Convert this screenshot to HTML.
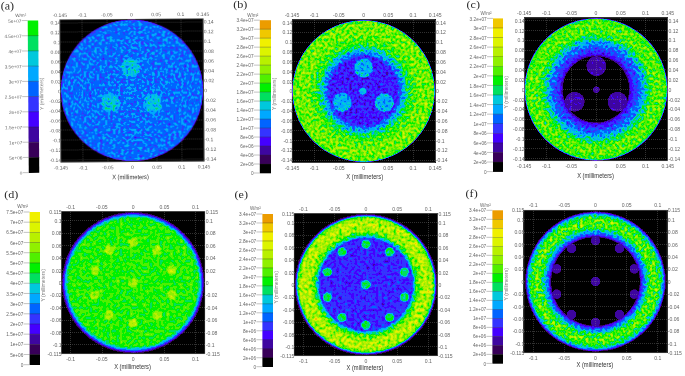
<!DOCTYPE html>
<html><head><meta charset="utf-8"><style>
html,body{margin:0;padding:0;background:#fff;}
svg{display:block;font-family:"Liberation Sans",sans-serif;will-change:transform;}
</style></head><body>
<svg width="685" height="376" viewBox="0 0 685 376">
<defs><filter id="fa" filterUnits="userSpaceOnUse" x="60.4" y="19.25" width="143.1" height="142.3" color-interpolation-filters="sRGB">
<feTurbulence type="fractalNoise" baseFrequency="0.38" numOctaves="1" seed="3" result="t"/>
<feColorMatrix in="t" type="matrix" values="0 0 0 0 0  1 0 0 0 0  0 0 0 0 0  0 0 0 0 1" result="ng"/>
<feComposite in="SourceGraphic" in2="ng" operator="arithmetic" k1="0.5" k2="0.5" k3="0" k4="0" result="c"/>
<feColorMatrix in="c" type="matrix" values="2 2.0000 -3.0000 0 0  2 2.0000 -3.0000 0 0  2 2.0000 -3.0000 0 0  0 0 0 0 1" result="v"/>
<feComponentTransfer in="v" result="q"><feFuncR type="discrete" tableValues="0.0000 0.2196 0.2431 0.2667 0.2039 0.0000 0.0000 0.0000 0.0000 0.0000 0.3137 0.5647 0.7216 0.8627 0.9412 0.9412 0.9255"/><feFuncG type="discrete" tableValues="0.0000 0.0000 0.0235 0.0000 0.2039 0.3922 0.6588 0.7843 0.8784 0.9412 0.9412 0.9412 0.9412 0.9569 0.9412 0.7843 0.6118"/><feFuncB type="discrete" tableValues="0.0000 0.3451 0.6275 1.0000 1.0000 1.0000 1.0000 0.8627 0.3765 0.0000 0.0000 0.0000 0.0000 0.0000 0.0000 0.0000 0.0000"/><feFuncA type="identity"/></feComponentTransfer>
<feGaussianBlur in="q" stdDeviation="0.7"/>
</filter>
<radialGradient id="g1"><stop offset="0.0000" stop-color="rgb(84,86,86)"/><stop offset="0.9720" stop-color="rgb(84,86,86)"/><stop offset="0.9860" stop-color="rgb(69,58,58)"/><stop offset="0.9944" stop-color="rgb(38,14,14)"/><stop offset="1.0000" stop-color="rgb(8,0,0)"/></radialGradient>
<radialGradient id="g2"><stop offset="0" stop-color="rgb(108,94,94)"/><stop offset="0.8" stop-color="rgb(105,94,94)"/><stop offset="1" stop-color="rgb(105,94,94)" stop-opacity="0"/></radialGradient>
<radialGradient id="g3"><stop offset="0" stop-color="rgb(108,94,94)"/><stop offset="0.8" stop-color="rgb(105,94,94)"/><stop offset="1" stop-color="rgb(105,94,94)" stop-opacity="0"/></radialGradient>
<radialGradient id="g4"><stop offset="0" stop-color="rgb(108,94,94)"/><stop offset="0.8" stop-color="rgb(105,94,94)"/><stop offset="1" stop-color="rgb(105,94,94)" stop-opacity="0"/></radialGradient>
<radialGradient id="g5"><stop offset="0" stop-color="rgb(94,72,72)"/><stop offset="0.5" stop-color="rgb(94,72,72)"/><stop offset="1" stop-color="rgb(94,72,72)" stop-opacity="0"/></radialGradient>
<mask id="ma" maskUnits="userSpaceOnUse" x="20.4" y="-20.75" width="223.1" height="222.3"><rect x="20.4" y="-20.75" width="223.1" height="222.3" fill="white"/><ellipse cx="131.95" cy="90.4" rx="70.05" ry="69.65" fill="#404040"/></mask>
<filter id="fb" filterUnits="userSpaceOnUse" x="292" y="19.9" width="143.2" height="142.4" color-interpolation-filters="sRGB">
<feTurbulence type="fractalNoise" baseFrequency="0.36" numOctaves="1" seed="5" result="t"/>
<feColorMatrix in="t" type="matrix" values="0 0 0 0 0  1 0 0 0 0  0 0 0 0 0  0 0 0 0 1" result="ng"/>
<feComposite in="SourceGraphic" in2="ng" operator="arithmetic" k1="0.5" k2="0.5" k3="0" k4="0" result="c"/>
<feColorMatrix in="c" type="matrix" values="2 2.0000 -3.0000 0 0  2 2.0000 -3.0000 0 0  2 2.0000 -3.0000 0 0  0 0 0 0 1" result="v"/>
<feComponentTransfer in="v" result="q"><feFuncR type="discrete" tableValues="0.0000 0.2196 0.2431 0.2667 0.2039 0.0000 0.0000 0.0000 0.0000 0.0000 0.3137 0.5647 0.7216 0.8627 0.9412 0.9412 0.9255"/><feFuncG type="discrete" tableValues="0.0000 0.0000 0.0235 0.0000 0.2039 0.3922 0.6588 0.7843 0.8784 0.9412 0.9412 0.9412 0.9412 0.9569 0.9412 0.7843 0.6118"/><feFuncB type="discrete" tableValues="0.0000 0.3451 0.6275 1.0000 1.0000 1.0000 1.0000 0.8627 0.3765 0.0000 0.0000 0.0000 0.0000 0.0000 0.0000 0.0000 0.0000"/><feFuncA type="identity"/></feComponentTransfer>
<feGaussianBlur in="q" stdDeviation="0.7"/>
</filter>
<radialGradient id="g6"><stop offset="0.0000" stop-color="rgb(60,79,79)"/><stop offset="0.4755" stop-color="rgb(60,79,79)"/><stop offset="0.5035" stop-color="rgb(75,101,101)"/><stop offset="0.5315" stop-color="rgb(93,115,115)"/><stop offset="0.5734" stop-color="rgb(108,130,130)"/><stop offset="0.6154" stop-color="rgb(128,144,144)"/><stop offset="0.6573" stop-color="rgb(144,144,144)"/><stop offset="0.7273" stop-color="rgb(156,144,144)"/><stop offset="0.8112" stop-color="rgb(165,144,144)"/><stop offset="0.9231" stop-color="rgb(165,144,144)"/><stop offset="0.9818" stop-color="rgb(156,130,130)"/><stop offset="0.9930" stop-color="rgb(75,43,43)"/><stop offset="1.0000" stop-color="rgb(8,0,0)"/></radialGradient>
<radialGradient id="g7"><stop offset="0" stop-color="rgb(93,94,94)"/><stop offset="0.82" stop-color="rgb(106,94,94)"/><stop offset="1" stop-color="rgb(106,94,94)" stop-opacity="0"/></radialGradient>
<radialGradient id="g8"><stop offset="0" stop-color="rgb(93,94,94)"/><stop offset="0.82" stop-color="rgb(106,94,94)"/><stop offset="1" stop-color="rgb(106,94,94)" stop-opacity="0"/></radialGradient>
<radialGradient id="g9"><stop offset="0" stop-color="rgb(93,94,94)"/><stop offset="0.82" stop-color="rgb(106,94,94)"/><stop offset="1" stop-color="rgb(106,94,94)" stop-opacity="0"/></radialGradient>
<radialGradient id="g10"><stop offset="0" stop-color="rgb(105,58,58)"/><stop offset="0.7" stop-color="rgb(105,58,58)"/><stop offset="1" stop-color="rgb(105,58,58)" stop-opacity="0"/></radialGradient>
<mask id="mb" maskUnits="userSpaceOnUse" x="252" y="-20.1" width="223.2" height="222.4"><rect x="252" y="-20.1" width="223.2" height="222.4" fill="white"/><ellipse cx="363.6" cy="91.10000000000001" rx="70.10" ry="69.70" fill="#404040"/></mask>
<filter id="fc" filterUnits="userSpaceOnUse" x="524.2" y="17.9" width="143.5999999999999" height="143.0" color-interpolation-filters="sRGB">
<feTurbulence type="fractalNoise" baseFrequency="0.36" numOctaves="1" seed="7" result="t"/>
<feColorMatrix in="t" type="matrix" values="0 0 0 0 0  1 0 0 0 0  0 0 0 0 0  0 0 0 0 1" result="ng"/>
<feComposite in="SourceGraphic" in2="ng" operator="arithmetic" k1="0.5" k2="0.5" k3="0" k4="0" result="c"/>
<feColorMatrix in="c" type="matrix" values="2 2.0000 -3.0000 0 0  2 2.0000 -3.0000 0 0  2 2.0000 -3.0000 0 0  0 0 0 0 1" result="v"/>
<feComponentTransfer in="v" result="q"><feFuncR type="discrete" tableValues="0.0000 0.2196 0.2431 0.2667 0.2039 0.0000 0.0000 0.0000 0.0000 0.0000 0.3137 0.5647 0.7216 0.8627 0.9412 0.9412 0.9255"/><feFuncG type="discrete" tableValues="0.0000 0.0000 0.0235 0.0000 0.2039 0.3922 0.6588 0.7843 0.8784 0.9412 0.9412 0.9412 0.9412 0.9569 0.9412 0.7843 0.6118"/><feFuncB type="discrete" tableValues="0.0000 0.3451 0.6275 1.0000 1.0000 1.0000 1.0000 0.8627 0.3765 0.0000 0.0000 0.0000 0.0000 0.0000 0.0000 0.0000 0.0000"/><feFuncA type="identity"/></feComponentTransfer>
<feGaussianBlur in="q" stdDeviation="0.7"/>
</filter>
<radialGradient id="g11"><stop offset="0.0000" stop-color="rgb(8,0,0)"/><stop offset="0.4587" stop-color="rgb(8,0,0)"/><stop offset="0.4699" stop-color="rgb(39,14,14)"/><stop offset="0.4895" stop-color="rgb(51,43,43)"/><stop offset="0.5175" stop-color="rgb(61,72,72)"/><stop offset="0.5594" stop-color="rgb(72,86,86)"/><stop offset="0.6154" stop-color="rgb(84,101,101)"/><stop offset="0.6573" stop-color="rgb(99,130,130)"/><stop offset="0.6993" stop-color="rgb(117,144,144)"/><stop offset="0.7413" stop-color="rgb(138,144,144)"/><stop offset="0.7972" stop-color="rgb(155,144,144)"/><stop offset="0.9231" stop-color="rgb(156,144,144)"/><stop offset="0.9790" stop-color="rgb(147,115,115)"/><stop offset="0.9930" stop-color="rgb(60,29,29)"/><stop offset="1.0000" stop-color="rgb(8,0,0)"/></radialGradient>
<radialGradient id="g12"><stop offset="0" stop-color="rgb(42,14,14)"/><stop offset="0.9" stop-color="rgb(42,14,14)"/><stop offset="1" stop-color="rgb(42,14,14)" stop-opacity="0"/></radialGradient>
<radialGradient id="g13"><stop offset="0" stop-color="rgb(42,14,14)"/><stop offset="0.9" stop-color="rgb(42,14,14)"/><stop offset="1" stop-color="rgb(42,14,14)" stop-opacity="0"/></radialGradient>
<radialGradient id="g14"><stop offset="0" stop-color="rgb(42,14,14)"/><stop offset="0.9" stop-color="rgb(42,14,14)"/><stop offset="1" stop-color="rgb(42,14,14)" stop-opacity="0"/></radialGradient>
<radialGradient id="g15"><stop offset="0" stop-color="rgb(42,14,14)"/><stop offset="0.8" stop-color="rgb(42,14,14)"/><stop offset="1" stop-color="rgb(42,14,14)" stop-opacity="0"/></radialGradient>
<mask id="mc" maskUnits="userSpaceOnUse" x="484.20000000000005" y="-22.1" width="223.5999999999999" height="223.0"><rect x="484.20000000000005" y="-22.1" width="223.5999999999999" height="223.0" fill="white"/><ellipse cx="596.0" cy="89.4" rx="70.30" ry="70.00" fill="#404040"/><ellipse cx="596.0" cy="89.4" rx="33.14" ry="33.00" fill="white"/></mask>
<filter id="fd" filterUnits="userSpaceOnUse" x="61.2" y="211.3" width="143.8" height="142.59999999999997" color-interpolation-filters="sRGB">
<feTurbulence type="fractalNoise" baseFrequency="0.3" numOctaves="1" seed="11" result="t"/>
<feColorMatrix in="t" type="matrix" values="0 0 0 0 0  1 0 0 0 0  0 0 0 0 0  0 0 0 0 1" result="ng"/>
<feComposite in="SourceGraphic" in2="ng" operator="arithmetic" k1="0.5" k2="0.5" k3="0" k4="0" result="c"/>
<feColorMatrix in="c" type="matrix" values="2 2.0000 -3.0000 0 0  2 2.0000 -3.0000 0 0  2 2.0000 -3.0000 0 0  0 0 0 0 1" result="v"/>
<feComponentTransfer in="v" result="q"><feFuncR type="discrete" tableValues="0.0000 0.2196 0.2431 0.2667 0.2039 0.0000 0.0000 0.0000 0.0000 0.0000 0.3137 0.5647 0.7216 0.8627 0.9412 0.9412 0.9255"/><feFuncG type="discrete" tableValues="0.0000 0.0000 0.0235 0.0000 0.2039 0.3922 0.6588 0.7843 0.8784 0.9412 0.9412 0.9412 0.9412 0.9569 0.9412 0.7843 0.6118"/><feFuncB type="discrete" tableValues="0.0000 0.3451 0.6275 1.0000 1.0000 1.0000 1.0000 0.8627 0.3765 0.0000 0.0000 0.0000 0.0000 0.0000 0.0000 0.0000 0.0000"/><feFuncA type="identity"/></feComponentTransfer>
<feGaussianBlur in="q" stdDeviation="0.7"/>
</filter>
<radialGradient id="g16"><stop offset="0.0000" stop-color="rgb(147,79,79)"/><stop offset="0.8951" stop-color="rgb(147,79,79)"/><stop offset="0.9161" stop-color="rgb(128,72,72)"/><stop offset="0.9371" stop-color="rgb(105,58,58)"/><stop offset="0.9510" stop-color="rgb(82,43,43)"/><stop offset="0.9650" stop-color="rgb(57,29,29)"/><stop offset="0.9790" stop-color="rgb(34,14,14)"/><stop offset="0.9902" stop-color="rgb(15,0,0)"/><stop offset="1.0000" stop-color="rgb(8,0,0)"/></radialGradient>
<radialGradient id="g17"><stop offset="0" stop-color="rgb(180,72,72)"/><stop offset="0.55" stop-color="rgb(180,72,72)"/><stop offset="1" stop-color="rgb(180,72,72)" stop-opacity="0"/></radialGradient>
<radialGradient id="g18"><stop offset="0" stop-color="rgb(180,72,72)"/><stop offset="0.55" stop-color="rgb(180,72,72)"/><stop offset="1" stop-color="rgb(180,72,72)" stop-opacity="0"/></radialGradient>
<radialGradient id="g19"><stop offset="0" stop-color="rgb(180,72,72)"/><stop offset="0.55" stop-color="rgb(180,72,72)"/><stop offset="1" stop-color="rgb(180,72,72)" stop-opacity="0"/></radialGradient>
<radialGradient id="g20"><stop offset="0" stop-color="rgb(180,72,72)"/><stop offset="0.55" stop-color="rgb(180,72,72)"/><stop offset="1" stop-color="rgb(180,72,72)" stop-opacity="0"/></radialGradient>
<radialGradient id="g21"><stop offset="0" stop-color="rgb(180,72,72)"/><stop offset="0.55" stop-color="rgb(180,72,72)"/><stop offset="1" stop-color="rgb(180,72,72)" stop-opacity="0"/></radialGradient>
<radialGradient id="g22"><stop offset="0" stop-color="rgb(180,72,72)"/><stop offset="0.55" stop-color="rgb(180,72,72)"/><stop offset="1" stop-color="rgb(180,72,72)" stop-opacity="0"/></radialGradient>
<radialGradient id="g23"><stop offset="0" stop-color="rgb(180,72,72)"/><stop offset="0.55" stop-color="rgb(180,72,72)"/><stop offset="1" stop-color="rgb(180,72,72)" stop-opacity="0"/></radialGradient>
<radialGradient id="g24"><stop offset="0" stop-color="rgb(180,72,72)"/><stop offset="0.55" stop-color="rgb(180,72,72)"/><stop offset="1" stop-color="rgb(180,72,72)" stop-opacity="0"/></radialGradient>
<radialGradient id="g25"><stop offset="0" stop-color="rgb(180,72,72)"/><stop offset="0.55" stop-color="rgb(180,72,72)"/><stop offset="1" stop-color="rgb(180,72,72)" stop-opacity="0"/></radialGradient>
<radialGradient id="g26"><stop offset="0" stop-color="rgb(180,72,72)"/><stop offset="0.55" stop-color="rgb(180,72,72)"/><stop offset="1" stop-color="rgb(180,72,72)" stop-opacity="0"/></radialGradient>
<radialGradient id="g27"><stop offset="0" stop-color="rgb(180,72,72)"/><stop offset="0.55" stop-color="rgb(180,72,72)"/><stop offset="1" stop-color="rgb(180,72,72)" stop-opacity="0"/></radialGradient>
<mask id="md" maskUnits="userSpaceOnUse" x="21.200000000000003" y="171.3" width="223.8" height="222.59999999999997"><rect x="21.200000000000003" y="171.3" width="223.8" height="222.59999999999997" fill="white"/><ellipse cx="133.1" cy="282.6" rx="70.40" ry="69.80" fill="#404040"/></mask>
<filter id="fe" filterUnits="userSpaceOnUse" x="294" y="213.3" width="143.8" height="142.59999999999997" color-interpolation-filters="sRGB">
<feTurbulence type="fractalNoise" baseFrequency="0.33" numOctaves="1" seed="13" result="t"/>
<feColorMatrix in="t" type="matrix" values="0 0 0 0 0  1 0 0 0 0  0 0 0 0 0  0 0 0 0 1" result="ng"/>
<feComposite in="SourceGraphic" in2="ng" operator="arithmetic" k1="0.5" k2="0.5" k3="0" k4="0" result="c"/>
<feColorMatrix in="c" type="matrix" values="2 2.0000 -3.0000 0 0  2 2.0000 -3.0000 0 0  2 2.0000 -3.0000 0 0  0 0 0 0 1" result="v"/>
<feComponentTransfer in="v" result="q"><feFuncR type="discrete" tableValues="0.0000 0.2196 0.2431 0.2667 0.2039 0.0000 0.0000 0.0000 0.0000 0.0000 0.3137 0.5647 0.7216 0.8627 0.9412 0.9412 0.9255"/><feFuncG type="discrete" tableValues="0.0000 0.0000 0.0235 0.0000 0.2039 0.3922 0.6588 0.7843 0.8784 0.9412 0.9412 0.9412 0.9412 0.9569 0.9412 0.7843 0.6118"/><feFuncB type="discrete" tableValues="0.0000 0.3451 0.6275 1.0000 1.0000 1.0000 1.0000 0.8627 0.3765 0.0000 0.0000 0.0000 0.0000 0.0000 0.0000 0.0000 0.0000"/><feFuncA type="identity"/></feComponentTransfer>
<feGaussianBlur in="q" stdDeviation="0.7"/>
</filter>
<radialGradient id="g28"><stop offset="0.0000" stop-color="rgb(61,72,72)"/><stop offset="0.6434" stop-color="rgb(61,72,72)"/><stop offset="0.6545" stop-color="rgb(78,79,79)"/><stop offset="0.6657" stop-color="rgb(99,86,86)"/><stop offset="0.6797" stop-color="rgb(114,101,101)"/><stop offset="0.6965" stop-color="rgb(132,130,130)"/><stop offset="0.7133" stop-color="rgb(148,144,144)"/><stop offset="0.7413" stop-color="rgb(165,158,158)"/><stop offset="0.7832" stop-color="rgb(177,158,158)"/><stop offset="0.7972" stop-color="rgb(183,158,158)"/><stop offset="0.8951" stop-color="rgb(183,158,158)"/><stop offset="0.9231" stop-color="rgb(172,144,144)"/><stop offset="0.9441" stop-color="rgb(150,115,115)"/><stop offset="0.9580" stop-color="rgb(105,72,72)"/><stop offset="0.9720" stop-color="rgb(60,29,29)"/><stop offset="0.9832" stop-color="rgb(22,0,0)"/><stop offset="1.0000" stop-color="rgb(8,0,0)"/></radialGradient>
<radialGradient id="g29"><stop offset="0" stop-color="rgb(132,72,72)"/><stop offset="0.65" stop-color="rgb(132,72,72)"/><stop offset="1" stop-color="rgb(132,72,72)" stop-opacity="0"/></radialGradient>
<radialGradient id="g30"><stop offset="0" stop-color="rgb(132,72,72)"/><stop offset="0.65" stop-color="rgb(132,72,72)"/><stop offset="1" stop-color="rgb(132,72,72)" stop-opacity="0"/></radialGradient>
<radialGradient id="g31"><stop offset="0" stop-color="rgb(132,72,72)"/><stop offset="0.65" stop-color="rgb(132,72,72)"/><stop offset="1" stop-color="rgb(132,72,72)" stop-opacity="0"/></radialGradient>
<radialGradient id="g32"><stop offset="0" stop-color="rgb(132,72,72)"/><stop offset="0.65" stop-color="rgb(132,72,72)"/><stop offset="1" stop-color="rgb(132,72,72)" stop-opacity="0"/></radialGradient>
<radialGradient id="g33"><stop offset="0" stop-color="rgb(132,72,72)"/><stop offset="0.65" stop-color="rgb(132,72,72)"/><stop offset="1" stop-color="rgb(132,72,72)" stop-opacity="0"/></radialGradient>
<radialGradient id="g34"><stop offset="0" stop-color="rgb(132,72,72)"/><stop offset="0.65" stop-color="rgb(132,72,72)"/><stop offset="1" stop-color="rgb(132,72,72)" stop-opacity="0"/></radialGradient>
<radialGradient id="g35"><stop offset="0" stop-color="rgb(132,72,72)"/><stop offset="0.65" stop-color="rgb(132,72,72)"/><stop offset="1" stop-color="rgb(132,72,72)" stop-opacity="0"/></radialGradient>
<radialGradient id="g36"><stop offset="0" stop-color="rgb(132,72,72)"/><stop offset="0.65" stop-color="rgb(132,72,72)"/><stop offset="1" stop-color="rgb(132,72,72)" stop-opacity="0"/></radialGradient>
<radialGradient id="g37"><stop offset="0" stop-color="rgb(132,72,72)"/><stop offset="0.65" stop-color="rgb(132,72,72)"/><stop offset="1" stop-color="rgb(132,72,72)" stop-opacity="0"/></radialGradient>
<radialGradient id="g38"><stop offset="0" stop-color="rgb(132,72,72)"/><stop offset="0.65" stop-color="rgb(132,72,72)"/><stop offset="1" stop-color="rgb(132,72,72)" stop-opacity="0"/></radialGradient>
<radialGradient id="g39"><stop offset="0" stop-color="rgb(132,72,72)"/><stop offset="0.65" stop-color="rgb(132,72,72)"/><stop offset="1" stop-color="rgb(132,72,72)" stop-opacity="0"/></radialGradient>
<mask id="me" maskUnits="userSpaceOnUse" x="254" y="173.3" width="223.8" height="222.59999999999997"><rect x="254" y="173.3" width="223.8" height="222.59999999999997" fill="white"/><ellipse cx="365.9" cy="284.6" rx="70.40" ry="69.80" fill="#404040"/></mask>
<filter id="ff" filterUnits="userSpaceOnUse" x="523.9" y="210.1" width="143.20000000000005" height="142.79999999999998" color-interpolation-filters="sRGB">
<feTurbulence type="fractalNoise" baseFrequency="0.36" numOctaves="1" seed="17" result="t"/>
<feColorMatrix in="t" type="matrix" values="0 0 0 0 0  1 0 0 0 0  0 0 0 0 0  0 0 0 0 1" result="ng"/>
<feComposite in="SourceGraphic" in2="ng" operator="arithmetic" k1="0.5" k2="0.5" k3="0" k4="0" result="c"/>
<feColorMatrix in="c" type="matrix" values="2 2.0000 -3.0000 0 0  2 2.0000 -3.0000 0 0  2 2.0000 -3.0000 0 0  0 0 0 0 1" result="v"/>
<feComponentTransfer in="v" result="q"><feFuncR type="discrete" tableValues="0.0000 0.2196 0.2431 0.2667 0.2039 0.0000 0.0000 0.0000 0.0000 0.0000 0.3137 0.5647 0.7216 0.8627 0.9412 0.9412 0.9255"/><feFuncG type="discrete" tableValues="0.0000 0.0000 0.0235 0.0000 0.2039 0.3922 0.6588 0.7843 0.8784 0.9412 0.9412 0.9412 0.9412 0.9569 0.9412 0.7843 0.6118"/><feFuncB type="discrete" tableValues="0.0000 0.3451 0.6275 1.0000 1.0000 1.0000 1.0000 0.8627 0.3765 0.0000 0.0000 0.0000 0.0000 0.0000 0.0000 0.0000 0.0000"/><feFuncA type="identity"/></feComponentTransfer>
<feGaussianBlur in="q" stdDeviation="0.7"/>
</filter>
<radialGradient id="g40"><stop offset="0.0000" stop-color="rgb(8,0,0)"/><stop offset="0.6154" stop-color="rgb(8,0,0)"/><stop offset="0.6266" stop-color="rgb(39,14,14)"/><stop offset="0.6406" stop-color="rgb(54,43,43)"/><stop offset="0.6573" stop-color="rgb(72,72,72)"/><stop offset="0.6783" stop-color="rgb(87,101,101)"/><stop offset="0.6993" stop-color="rgb(102,115,115)"/><stop offset="0.7203" stop-color="rgb(118,130,130)"/><stop offset="0.7413" stop-color="rgb(135,144,144)"/><stop offset="0.7692" stop-color="rgb(148,158,158)"/><stop offset="0.8112" stop-color="rgb(156,173,173)"/><stop offset="0.8601" stop-color="rgb(153,173,173)"/><stop offset="0.8881" stop-color="rgb(144,144,144)"/><stop offset="0.9119" stop-color="rgb(132,130,130)"/><stop offset="0.9315" stop-color="rgb(114,115,115)"/><stop offset="0.9483" stop-color="rgb(90,86,86)"/><stop offset="0.9622" stop-color="rgb(64,58,58)"/><stop offset="0.9720" stop-color="rgb(39,29,29)"/><stop offset="0.9804" stop-color="rgb(15,0,0)"/><stop offset="1.0000" stop-color="rgb(8,0,0)"/></radialGradient>
<radialGradient id="g41"><stop offset="0" stop-color="rgb(42,0,0)"/><stop offset="0.85" stop-color="rgb(42,0,0)"/><stop offset="1" stop-color="rgb(42,0,0)" stop-opacity="0"/></radialGradient>
<radialGradient id="g42"><stop offset="0" stop-color="rgb(42,0,0)"/><stop offset="0.85" stop-color="rgb(42,0,0)"/><stop offset="1" stop-color="rgb(42,0,0)" stop-opacity="0"/></radialGradient>
<radialGradient id="g43"><stop offset="0" stop-color="rgb(42,0,0)"/><stop offset="0.85" stop-color="rgb(42,0,0)"/><stop offset="1" stop-color="rgb(42,0,0)" stop-opacity="0"/></radialGradient>
<radialGradient id="g44"><stop offset="0" stop-color="rgb(42,0,0)"/><stop offset="0.85" stop-color="rgb(42,0,0)"/><stop offset="1" stop-color="rgb(42,0,0)" stop-opacity="0"/></radialGradient>
<radialGradient id="g45"><stop offset="0" stop-color="rgb(42,0,0)"/><stop offset="0.85" stop-color="rgb(42,0,0)"/><stop offset="1" stop-color="rgb(42,0,0)" stop-opacity="0"/></radialGradient>
<radialGradient id="g46"><stop offset="0" stop-color="rgb(42,0,0)"/><stop offset="0.85" stop-color="rgb(42,0,0)"/><stop offset="1" stop-color="rgb(42,0,0)" stop-opacity="0"/></radialGradient>
<radialGradient id="g47"><stop offset="0" stop-color="rgb(42,0,0)"/><stop offset="0.85" stop-color="rgb(42,0,0)"/><stop offset="1" stop-color="rgb(42,0,0)" stop-opacity="0"/></radialGradient>
<radialGradient id="g48"><stop offset="0" stop-color="rgb(42,0,0)"/><stop offset="0.85" stop-color="rgb(42,0,0)"/><stop offset="1" stop-color="rgb(42,0,0)" stop-opacity="0"/></radialGradient>
<radialGradient id="g49"><stop offset="0" stop-color="rgb(42,0,0)"/><stop offset="0.85" stop-color="rgb(42,0,0)"/><stop offset="1" stop-color="rgb(42,0,0)" stop-opacity="0"/></radialGradient>
<radialGradient id="g50"><stop offset="0" stop-color="rgb(42,0,0)"/><stop offset="0.85" stop-color="rgb(42,0,0)"/><stop offset="1" stop-color="rgb(42,0,0)" stop-opacity="0"/></radialGradient>
<radialGradient id="g51"><stop offset="0" stop-color="rgb(42,0,0)"/><stop offset="0.85" stop-color="rgb(42,0,0)"/><stop offset="1" stop-color="rgb(42,0,0)" stop-opacity="0"/></radialGradient>
<mask id="mf" maskUnits="userSpaceOnUse" x="483.9" y="170.1" width="223.20000000000005" height="222.79999999999998"><rect x="483.9" y="170.1" width="223.20000000000005" height="222.79999999999998" fill="white"/><ellipse cx="595.5" cy="281.5" rx="70.10" ry="69.90" fill="#404040"/><ellipse cx="595.5" cy="281.5" rx="44.36" ry="44.24" fill="white"/></mask></defs>
<rect width="685" height="376" fill="#fff"/>
<g transform="rotate(-0.4,131.95,90.4)">
<text transform="translate(1.2,8.7) scale(1.08,1)" font-family="Liberation Serif" font-size="11.2" fill="#2a2a2a">(a)</text>
<text x="26.7" y="16.1" font-size="4.6" fill="#666" text-anchor="end">W/m²</text>
<rect x="28.2" y="19.80" width="10.500000000000004" height="15.51" fill="#00f000"/>
<rect x="28.2" y="35.01" width="10.500000000000004" height="15.51" fill="#00e060"/>
<rect x="28.2" y="50.22" width="10.500000000000004" height="15.51" fill="#00c8dc"/>
<rect x="28.2" y="65.43" width="10.500000000000004" height="15.51" fill="#00a8ff"/>
<rect x="28.2" y="80.64" width="10.500000000000004" height="15.51" fill="#0064ff"/>
<rect x="28.2" y="95.85" width="10.500000000000004" height="15.51" fill="#3434ff"/>
<rect x="28.2" y="111.06" width="10.500000000000004" height="15.51" fill="#4400ff"/>
<rect x="28.2" y="126.27" width="10.500000000000004" height="15.51" fill="#3e06a0"/>
<rect x="28.2" y="141.48" width="10.500000000000004" height="15.51" fill="#380058"/>
<rect x="28.2" y="156.69" width="10.500000000000004" height="15.51" fill="#000000"/>
<line x1="28.2" x2="38.7" y1="35.01" y2="35.01" stroke="#222" stroke-width="0.45" opacity="0.7"/>
<line x1="28.2" x2="38.7" y1="50.22" y2="50.22" stroke="#222" stroke-width="0.45" opacity="0.7"/>
<line x1="28.2" x2="38.7" y1="65.43" y2="65.43" stroke="#222" stroke-width="0.45" opacity="0.7"/>
<line x1="28.2" x2="38.7" y1="80.64" y2="80.64" stroke="#222" stroke-width="0.45" opacity="0.7"/>
<line x1="28.2" x2="38.7" y1="95.85" y2="95.85" stroke="#222" stroke-width="0.45" opacity="0.7"/>
<line x1="28.2" x2="38.7" y1="111.06" y2="111.06" stroke="#222" stroke-width="0.45" opacity="0.7"/>
<line x1="28.2" x2="38.7" y1="126.27" y2="126.27" stroke="#222" stroke-width="0.45" opacity="0.7"/>
<line x1="28.2" x2="38.7" y1="141.48" y2="141.48" stroke="#222" stroke-width="0.45" opacity="0.7"/>
<line x1="28.2" x2="38.7" y1="156.69" y2="156.69" stroke="#222" stroke-width="0.45" opacity="0.7"/>
<line x1="22.2" x2="28.2" y1="19.80" y2="19.80" stroke="#999" stroke-width="0.6"/>
<text x="21.9" y="21.90" font-size="4.7" fill="#666" text-anchor="end">5e+07</text>
<line x1="22.2" x2="28.2" y1="35.01" y2="35.01" stroke="#999" stroke-width="0.6"/>
<text x="21.9" y="37.11" font-size="4.7" fill="#666" text-anchor="end">4.5e+07</text>
<line x1="22.2" x2="28.2" y1="50.22" y2="50.22" stroke="#999" stroke-width="0.6"/>
<text x="21.9" y="52.32" font-size="4.7" fill="#666" text-anchor="end">4e+07</text>
<line x1="22.2" x2="28.2" y1="65.43" y2="65.43" stroke="#999" stroke-width="0.6"/>
<text x="21.9" y="67.53" font-size="4.7" fill="#666" text-anchor="end">3.5e+07</text>
<line x1="22.2" x2="28.2" y1="80.64" y2="80.64" stroke="#999" stroke-width="0.6"/>
<text x="21.9" y="82.74" font-size="4.7" fill="#666" text-anchor="end">3e+07</text>
<line x1="22.2" x2="28.2" y1="95.85" y2="95.85" stroke="#999" stroke-width="0.6"/>
<text x="21.9" y="97.95" font-size="4.7" fill="#666" text-anchor="end">2.5e+07</text>
<line x1="22.2" x2="28.2" y1="111.06" y2="111.06" stroke="#999" stroke-width="0.6"/>
<text x="21.9" y="113.16" font-size="4.7" fill="#666" text-anchor="end">2e+07</text>
<line x1="22.2" x2="28.2" y1="126.27" y2="126.27" stroke="#999" stroke-width="0.6"/>
<text x="21.9" y="128.37" font-size="4.7" fill="#666" text-anchor="end">1.5e+07</text>
<line x1="22.2" x2="28.2" y1="141.48" y2="141.48" stroke="#999" stroke-width="0.6"/>
<text x="21.9" y="143.58" font-size="4.7" fill="#666" text-anchor="end">1e+07</text>
<line x1="22.2" x2="28.2" y1="156.69" y2="156.69" stroke="#999" stroke-width="0.6"/>
<text x="21.9" y="158.79" font-size="4.7" fill="#666" text-anchor="end">5e+06</text>
<line x1="22.2" x2="28.2" y1="171.90" y2="171.90" stroke="#999" stroke-width="0.6"/>
<text x="21.9" y="174.00" font-size="4.7" fill="#666" text-anchor="end">0</text>
<g filter="url(#fa)"><rect x="60.4" y="19.25" width="143.1" height="142.3" fill="rgb(8,0,0)"/><ellipse cx="131.95" cy="90.4" rx="71.55" ry="71.15" fill="url(#g1)"/><circle cx="131.10" cy="67.50" r="10.5" fill="url(#g2)"/><circle cx="110.40" cy="102.50" r="10.5" fill="url(#g3)"/><circle cx="152.90" cy="103.50" r="10.5" fill="url(#g4)"/><circle cx="131.10" cy="90.40" r="4" fill="url(#g5)"/></g>
<g mask="url(#ma)">
<text x="60.40" y="16.45" font-size="5.1" fill="#666" text-anchor="middle">-0.145</text>
<text x="60.40" y="169.05" font-size="5.1" fill="#666" text-anchor="middle">-0.145</text>
<line x1="82.5" x2="82.5" y1="20" y2="161" stroke="#999" stroke-width="1" stroke-dasharray="1 1" opacity="0.32"/>
<text x="82.61" y="16.45" font-size="5.1" fill="#666" text-anchor="middle">-0.1</text>
<text x="82.61" y="169.05" font-size="5.1" fill="#666" text-anchor="middle">-0.1</text>
<line x1="107.5" x2="107.5" y1="20" y2="161" stroke="#999" stroke-width="1" stroke-dasharray="1 1" opacity="0.32"/>
<text x="107.28" y="16.45" font-size="5.1" fill="#666" text-anchor="middle">-0.05</text>
<text x="107.28" y="169.05" font-size="5.1" fill="#666" text-anchor="middle">-0.05</text>
<line x1="132.5" x2="132.5" y1="20" y2="161" stroke="#999" stroke-width="1" stroke-dasharray="1 1" opacity="0.32"/>
<text x="131.95" y="16.45" font-size="5.1" fill="#666" text-anchor="middle">0</text>
<text x="131.95" y="169.05" font-size="5.1" fill="#666" text-anchor="middle">0</text>
<line x1="156.5" x2="156.5" y1="20" y2="161" stroke="#999" stroke-width="1" stroke-dasharray="1 1" opacity="0.32"/>
<text x="156.62" y="16.45" font-size="5.1" fill="#666" text-anchor="middle">0.05</text>
<text x="156.62" y="169.05" font-size="5.1" fill="#666" text-anchor="middle">0.05</text>
<line x1="181.5" x2="181.5" y1="20" y2="161" stroke="#999" stroke-width="1" stroke-dasharray="1 1" opacity="0.32"/>
<text x="181.29" y="16.45" font-size="5.1" fill="#666" text-anchor="middle">0.1</text>
<text x="181.29" y="169.05" font-size="5.1" fill="#666" text-anchor="middle">0.1</text>
<text x="203.50" y="16.45" font-size="5.1" fill="#666" text-anchor="middle">0.145</text>
<text x="203.50" y="169.05" font-size="5.1" fill="#666" text-anchor="middle">0.145</text>
<line x1="61" x2="203" y1="22.5" y2="22.5" stroke="#999" stroke-width="1" stroke-dasharray="1 1" opacity="0.32"/>
<text x="60.8" y="24.00" font-size="5.1" fill="#666" text-anchor="end">0.14</text>
<text x="204.2" y="24.00" font-size="5.1" fill="#666">0.14</text>
<line x1="61" x2="203" y1="31.5" y2="31.5" stroke="#999" stroke-width="1" stroke-dasharray="1 1" opacity="0.32"/>
<text x="60.8" y="33.82" font-size="5.1" fill="#666" text-anchor="end">0.12</text>
<text x="204.2" y="33.82" font-size="5.1" fill="#666">0.12</text>
<line x1="61" x2="203" y1="41.5" y2="41.5" stroke="#999" stroke-width="1" stroke-dasharray="1 1" opacity="0.32"/>
<text x="60.8" y="43.63" font-size="5.1" fill="#666" text-anchor="end">0.1</text>
<text x="204.2" y="43.63" font-size="5.1" fill="#666">0.1</text>
<line x1="61" x2="203" y1="51.5" y2="51.5" stroke="#999" stroke-width="1" stroke-dasharray="1 1" opacity="0.32"/>
<text x="60.8" y="53.44" font-size="5.1" fill="#666" text-anchor="end">0.08</text>
<text x="204.2" y="53.44" font-size="5.1" fill="#666">0.08</text>
<line x1="61" x2="203" y1="61.5" y2="61.5" stroke="#999" stroke-width="1" stroke-dasharray="1 1" opacity="0.32"/>
<text x="60.8" y="63.26" font-size="5.1" fill="#666" text-anchor="end">0.06</text>
<text x="204.2" y="63.26" font-size="5.1" fill="#666">0.06</text>
<line x1="61" x2="203" y1="71.5" y2="71.5" stroke="#999" stroke-width="1" stroke-dasharray="1 1" opacity="0.32"/>
<text x="60.8" y="73.07" font-size="5.1" fill="#666" text-anchor="end">0.04</text>
<text x="204.2" y="73.07" font-size="5.1" fill="#666">0.04</text>
<line x1="61" x2="203" y1="80.5" y2="80.5" stroke="#999" stroke-width="1" stroke-dasharray="1 1" opacity="0.32"/>
<text x="60.8" y="82.89" font-size="5.1" fill="#666" text-anchor="end">0.02</text>
<text x="204.2" y="82.89" font-size="5.1" fill="#666">0.02</text>
<line x1="61" x2="203" y1="90.5" y2="90.5" stroke="#999" stroke-width="1" stroke-dasharray="1 1" opacity="0.32"/>
<text x="60.8" y="92.70" font-size="5.1" fill="#666" text-anchor="end">0</text>
<text x="204.2" y="92.70" font-size="5.1" fill="#666">0</text>
<line x1="61" x2="203" y1="100.5" y2="100.5" stroke="#999" stroke-width="1" stroke-dasharray="1 1" opacity="0.32"/>
<text x="60.8" y="102.51" font-size="5.1" fill="#666" text-anchor="end">-0.02</text>
<text x="204.2" y="102.51" font-size="5.1" fill="#666">-0.02</text>
<line x1="61" x2="203" y1="110.5" y2="110.5" stroke="#999" stroke-width="1" stroke-dasharray="1 1" opacity="0.32"/>
<text x="60.8" y="112.33" font-size="5.1" fill="#666" text-anchor="end">-0.04</text>
<text x="204.2" y="112.33" font-size="5.1" fill="#666">-0.04</text>
<line x1="61" x2="203" y1="120.5" y2="120.5" stroke="#999" stroke-width="1" stroke-dasharray="1 1" opacity="0.32"/>
<text x="60.8" y="122.14" font-size="5.1" fill="#666" text-anchor="end">-0.06</text>
<text x="204.2" y="122.14" font-size="5.1" fill="#666">-0.06</text>
<line x1="61" x2="203" y1="129.5" y2="129.5" stroke="#999" stroke-width="1" stroke-dasharray="1 1" opacity="0.32"/>
<text x="60.8" y="131.96" font-size="5.1" fill="#666" text-anchor="end">-0.08</text>
<text x="204.2" y="131.96" font-size="5.1" fill="#666">-0.08</text>
<line x1="61" x2="203" y1="139.5" y2="139.5" stroke="#999" stroke-width="1" stroke-dasharray="1 1" opacity="0.32"/>
<text x="60.8" y="141.77" font-size="5.1" fill="#666" text-anchor="end">-0.1</text>
<text x="204.2" y="141.77" font-size="5.1" fill="#666">-0.1</text>
<line x1="61" x2="203" y1="149.5" y2="149.5" stroke="#999" stroke-width="1" stroke-dasharray="1 1" opacity="0.32"/>
<text x="60.8" y="151.58" font-size="5.1" fill="#666" text-anchor="end">-0.12</text>
<text x="204.2" y="151.58" font-size="5.1" fill="#666">-0.12</text>
<line x1="61" x2="203" y1="159.5" y2="159.5" stroke="#999" stroke-width="1" stroke-dasharray="1 1" opacity="0.32"/>
<text x="60.8" y="161.40" font-size="5.1" fill="#666" text-anchor="end">-0.14</text>
<text x="204.2" y="161.40" font-size="5.1" fill="#666">-0.14</text>
</g>
<rect x="60.4" y="19.25" width="143.1" height="142.3" fill="none" stroke="#aaa" stroke-width="0.4"/>
<text transform="translate(129.9,179.2) scale(0.9,1)" font-size="6.4" fill="#333" text-anchor="middle">X (millimeters)</text>
<text transform="translate(43.30,93.20) rotate(-90)" x="0" y="0" font-size="5.1" fill="#808080" text-anchor="middle">Y (millimeters)</text>
</g>
<text transform="translate(233.2,7.9) scale(1.08,1)" font-family="Liberation Serif" font-size="11.2" fill="#2a2a2a">(b)</text>
<text x="258.3" y="16.5" font-size="4.6" fill="#666" text-anchor="end">W/m²</text>
<rect x="259.8" y="20.20" width="11.199999999999989" height="9.29" fill="#ec9c00"/>
<rect x="259.8" y="29.19" width="11.199999999999989" height="9.29" fill="#f0c800"/>
<rect x="259.8" y="38.18" width="11.199999999999989" height="9.29" fill="#f0f000"/>
<rect x="259.8" y="47.16" width="11.199999999999989" height="9.29" fill="#dcf400"/>
<rect x="259.8" y="56.15" width="11.199999999999989" height="9.29" fill="#b8f000"/>
<rect x="259.8" y="65.14" width="11.199999999999989" height="9.29" fill="#90f000"/>
<rect x="259.8" y="74.13" width="11.199999999999989" height="9.29" fill="#50f000"/>
<rect x="259.8" y="83.12" width="11.199999999999989" height="9.29" fill="#00f000"/>
<rect x="259.8" y="92.11" width="11.199999999999989" height="9.29" fill="#00e060"/>
<rect x="259.8" y="101.09" width="11.199999999999989" height="9.29" fill="#00c8dc"/>
<rect x="259.8" y="110.08" width="11.199999999999989" height="9.29" fill="#00a8ff"/>
<rect x="259.8" y="119.07" width="11.199999999999989" height="9.29" fill="#0064ff"/>
<rect x="259.8" y="128.06" width="11.199999999999989" height="9.29" fill="#3434ff"/>
<rect x="259.8" y="137.05" width="11.199999999999989" height="9.29" fill="#4400ff"/>
<rect x="259.8" y="146.04" width="11.199999999999989" height="9.29" fill="#3e06a0"/>
<rect x="259.8" y="155.02" width="11.199999999999989" height="9.29" fill="#380058"/>
<rect x="259.8" y="164.01" width="11.199999999999989" height="9.29" fill="#000000"/>
<line x1="259.8" x2="271" y1="29.19" y2="29.19" stroke="#222" stroke-width="0.45" opacity="0.7"/>
<line x1="259.8" x2="271" y1="38.18" y2="38.18" stroke="#222" stroke-width="0.45" opacity="0.7"/>
<line x1="259.8" x2="271" y1="47.16" y2="47.16" stroke="#222" stroke-width="0.45" opacity="0.7"/>
<line x1="259.8" x2="271" y1="56.15" y2="56.15" stroke="#222" stroke-width="0.45" opacity="0.7"/>
<line x1="259.8" x2="271" y1="65.14" y2="65.14" stroke="#222" stroke-width="0.45" opacity="0.7"/>
<line x1="259.8" x2="271" y1="74.13" y2="74.13" stroke="#222" stroke-width="0.45" opacity="0.7"/>
<line x1="259.8" x2="271" y1="83.12" y2="83.12" stroke="#222" stroke-width="0.45" opacity="0.7"/>
<line x1="259.8" x2="271" y1="92.11" y2="92.11" stroke="#222" stroke-width="0.45" opacity="0.7"/>
<line x1="259.8" x2="271" y1="101.09" y2="101.09" stroke="#222" stroke-width="0.45" opacity="0.7"/>
<line x1="259.8" x2="271" y1="110.08" y2="110.08" stroke="#222" stroke-width="0.45" opacity="0.7"/>
<line x1="259.8" x2="271" y1="119.07" y2="119.07" stroke="#222" stroke-width="0.45" opacity="0.7"/>
<line x1="259.8" x2="271" y1="128.06" y2="128.06" stroke="#222" stroke-width="0.45" opacity="0.7"/>
<line x1="259.8" x2="271" y1="137.05" y2="137.05" stroke="#222" stroke-width="0.45" opacity="0.7"/>
<line x1="259.8" x2="271" y1="146.04" y2="146.04" stroke="#222" stroke-width="0.45" opacity="0.7"/>
<line x1="259.8" x2="271" y1="155.02" y2="155.02" stroke="#222" stroke-width="0.45" opacity="0.7"/>
<line x1="259.8" x2="271" y1="164.01" y2="164.01" stroke="#222" stroke-width="0.45" opacity="0.7"/>
<line x1="253.8" x2="259.8" y1="20.20" y2="20.20" stroke="#999" stroke-width="0.6"/>
<text x="253.5" y="22.30" font-size="4.7" fill="#666" text-anchor="end">3.4e+07</text>
<line x1="253.8" x2="259.8" y1="29.19" y2="29.19" stroke="#999" stroke-width="0.6"/>
<text x="253.5" y="31.29" font-size="4.7" fill="#666" text-anchor="end">3.2e+07</text>
<line x1="253.8" x2="259.8" y1="38.18" y2="38.18" stroke="#999" stroke-width="0.6"/>
<text x="253.5" y="40.28" font-size="4.7" fill="#666" text-anchor="end">3e+07</text>
<line x1="253.8" x2="259.8" y1="47.16" y2="47.16" stroke="#999" stroke-width="0.6"/>
<text x="253.5" y="49.26" font-size="4.7" fill="#666" text-anchor="end">2.8e+07</text>
<line x1="253.8" x2="259.8" y1="56.15" y2="56.15" stroke="#999" stroke-width="0.6"/>
<text x="253.5" y="58.25" font-size="4.7" fill="#666" text-anchor="end">2.6e+07</text>
<line x1="253.8" x2="259.8" y1="65.14" y2="65.14" stroke="#999" stroke-width="0.6"/>
<text x="253.5" y="67.24" font-size="4.7" fill="#666" text-anchor="end">2.4e+07</text>
<line x1="253.8" x2="259.8" y1="74.13" y2="74.13" stroke="#999" stroke-width="0.6"/>
<text x="253.5" y="76.23" font-size="4.7" fill="#666" text-anchor="end">2.2e+07</text>
<line x1="253.8" x2="259.8" y1="83.12" y2="83.12" stroke="#999" stroke-width="0.6"/>
<text x="253.5" y="85.22" font-size="4.7" fill="#666" text-anchor="end">2e+07</text>
<line x1="253.8" x2="259.8" y1="92.11" y2="92.11" stroke="#999" stroke-width="0.6"/>
<text x="253.5" y="94.21" font-size="4.7" fill="#666" text-anchor="end">1.8e+07</text>
<line x1="253.8" x2="259.8" y1="101.09" y2="101.09" stroke="#999" stroke-width="0.6"/>
<text x="253.5" y="103.19" font-size="4.7" fill="#666" text-anchor="end">1.6e+07</text>
<line x1="253.8" x2="259.8" y1="110.08" y2="110.08" stroke="#999" stroke-width="0.6"/>
<text x="253.5" y="112.18" font-size="4.7" fill="#666" text-anchor="end">1.4e+07</text>
<line x1="253.8" x2="259.8" y1="119.07" y2="119.07" stroke="#999" stroke-width="0.6"/>
<text x="253.5" y="121.17" font-size="4.7" fill="#666" text-anchor="end">1.2e+07</text>
<line x1="253.8" x2="259.8" y1="128.06" y2="128.06" stroke="#999" stroke-width="0.6"/>
<text x="253.5" y="130.16" font-size="4.7" fill="#666" text-anchor="end">1e+07</text>
<line x1="253.8" x2="259.8" y1="137.05" y2="137.05" stroke="#999" stroke-width="0.6"/>
<text x="253.5" y="139.15" font-size="4.7" fill="#666" text-anchor="end">8e+06</text>
<line x1="253.8" x2="259.8" y1="146.04" y2="146.04" stroke="#999" stroke-width="0.6"/>
<text x="253.5" y="148.14" font-size="4.7" fill="#666" text-anchor="end">6e+06</text>
<line x1="253.8" x2="259.8" y1="155.02" y2="155.02" stroke="#999" stroke-width="0.6"/>
<text x="253.5" y="157.12" font-size="4.7" fill="#666" text-anchor="end">4e+06</text>
<line x1="253.8" x2="259.8" y1="164.01" y2="164.01" stroke="#999" stroke-width="0.6"/>
<text x="253.5" y="166.11" font-size="4.7" fill="#666" text-anchor="end">2e+06</text>
<line x1="253.8" x2="259.8" y1="173.00" y2="173.00" stroke="#999" stroke-width="0.6"/>
<text x="253.5" y="175.10" font-size="4.7" fill="#666" text-anchor="end">0</text>
<g filter="url(#fb)"><rect x="292" y="19.9" width="143.2" height="142.4" fill="rgb(8,0,0)"/><ellipse cx="363.6" cy="91.10000000000001" rx="71.6" ry="71.2" fill="url(#g6)"/><circle cx="363.70" cy="68.00" r="10.2" fill="url(#g7)"/><circle cx="342.20" cy="102.30" r="10.2" fill="url(#g8)"/><circle cx="384.40" cy="102.70" r="10.2" fill="url(#g9)"/><circle cx="362.90" cy="91.10" r="4.2" fill="url(#g10)"/></g>
<g mask="url(#mb)">
<text x="292.00" y="17.099999999999998" font-size="5.1" fill="#666" text-anchor="middle">-0.145</text>
<text x="292.00" y="169.8" font-size="5.1" fill="#666" text-anchor="middle">-0.145</text>
<line x1="314.5" x2="314.5" y1="20" y2="162" stroke="#999" stroke-width="1" stroke-dasharray="1 1" opacity="0.32"/>
<text x="314.22" y="17.099999999999998" font-size="5.1" fill="#666" text-anchor="middle">-0.1</text>
<text x="314.22" y="169.8" font-size="5.1" fill="#666" text-anchor="middle">-0.1</text>
<line x1="339.5" x2="339.5" y1="20" y2="162" stroke="#999" stroke-width="1" stroke-dasharray="1 1" opacity="0.32"/>
<text x="338.91" y="17.099999999999998" font-size="5.1" fill="#666" text-anchor="middle">-0.05</text>
<text x="338.91" y="169.8" font-size="5.1" fill="#666" text-anchor="middle">-0.05</text>
<line x1="363.5" x2="363.5" y1="20" y2="162" stroke="#999" stroke-width="1" stroke-dasharray="1 1" opacity="0.32"/>
<text x="363.60" y="17.099999999999998" font-size="5.1" fill="#666" text-anchor="middle">0</text>
<text x="363.60" y="169.8" font-size="5.1" fill="#666" text-anchor="middle">0</text>
<line x1="388.5" x2="388.5" y1="20" y2="162" stroke="#999" stroke-width="1" stroke-dasharray="1 1" opacity="0.32"/>
<text x="388.29" y="17.099999999999998" font-size="5.1" fill="#666" text-anchor="middle">0.05</text>
<text x="388.29" y="169.8" font-size="5.1" fill="#666" text-anchor="middle">0.05</text>
<line x1="413.5" x2="413.5" y1="20" y2="162" stroke="#999" stroke-width="1" stroke-dasharray="1 1" opacity="0.32"/>
<text x="412.98" y="17.099999999999998" font-size="5.1" fill="#666" text-anchor="middle">0.1</text>
<text x="412.98" y="169.8" font-size="5.1" fill="#666" text-anchor="middle">0.1</text>
<text x="435.20" y="17.099999999999998" font-size="5.1" fill="#666" text-anchor="middle">0.145</text>
<text x="435.20" y="169.8" font-size="5.1" fill="#666" text-anchor="middle">0.145</text>
<line x1="292" x2="435" y1="22.5" y2="22.5" stroke="#999" stroke-width="1" stroke-dasharray="1 1" opacity="0.32"/>
<text x="292.4" y="24.66" font-size="5.1" fill="#666" text-anchor="end">0.14</text>
<text x="435.9" y="24.66" font-size="5.1" fill="#666">0.14</text>
<line x1="292" x2="435" y1="32.5" y2="32.5" stroke="#999" stroke-width="1" stroke-dasharray="1 1" opacity="0.32"/>
<text x="292.4" y="34.48" font-size="5.1" fill="#666" text-anchor="end">0.12</text>
<text x="435.9" y="34.48" font-size="5.1" fill="#666">0.12</text>
<line x1="292" x2="435" y1="42.5" y2="42.5" stroke="#999" stroke-width="1" stroke-dasharray="1 1" opacity="0.32"/>
<text x="292.4" y="44.30" font-size="5.1" fill="#666" text-anchor="end">0.1</text>
<text x="435.9" y="44.30" font-size="5.1" fill="#666">0.1</text>
<line x1="292" x2="435" y1="52.5" y2="52.5" stroke="#999" stroke-width="1" stroke-dasharray="1 1" opacity="0.32"/>
<text x="292.4" y="54.12" font-size="5.1" fill="#666" text-anchor="end">0.08</text>
<text x="435.9" y="54.12" font-size="5.1" fill="#666">0.08</text>
<line x1="292" x2="435" y1="61.5" y2="61.5" stroke="#999" stroke-width="1" stroke-dasharray="1 1" opacity="0.32"/>
<text x="292.4" y="63.94" font-size="5.1" fill="#666" text-anchor="end">0.06</text>
<text x="435.9" y="63.94" font-size="5.1" fill="#666">0.06</text>
<line x1="292" x2="435" y1="71.5" y2="71.5" stroke="#999" stroke-width="1" stroke-dasharray="1 1" opacity="0.32"/>
<text x="292.4" y="73.76" font-size="5.1" fill="#666" text-anchor="end">0.04</text>
<text x="435.9" y="73.76" font-size="5.1" fill="#666">0.04</text>
<line x1="292" x2="435" y1="81.5" y2="81.5" stroke="#999" stroke-width="1" stroke-dasharray="1 1" opacity="0.32"/>
<text x="292.4" y="83.58" font-size="5.1" fill="#666" text-anchor="end">0.02</text>
<text x="435.9" y="83.58" font-size="5.1" fill="#666">0.02</text>
<line x1="292" x2="435" y1="91.5" y2="91.5" stroke="#999" stroke-width="1" stroke-dasharray="1 1" opacity="0.32"/>
<text x="292.4" y="93.40" font-size="5.1" fill="#666" text-anchor="end">0</text>
<text x="435.9" y="93.40" font-size="5.1" fill="#666">0</text>
<line x1="292" x2="435" y1="101.5" y2="101.5" stroke="#999" stroke-width="1" stroke-dasharray="1 1" opacity="0.32"/>
<text x="292.4" y="103.22" font-size="5.1" fill="#666" text-anchor="end">-0.02</text>
<text x="435.9" y="103.22" font-size="5.1" fill="#666">-0.02</text>
<line x1="292" x2="435" y1="111.5" y2="111.5" stroke="#999" stroke-width="1" stroke-dasharray="1 1" opacity="0.32"/>
<text x="292.4" y="113.04" font-size="5.1" fill="#666" text-anchor="end">-0.04</text>
<text x="435.9" y="113.04" font-size="5.1" fill="#666">-0.04</text>
<line x1="292" x2="435" y1="120.5" y2="120.5" stroke="#999" stroke-width="1" stroke-dasharray="1 1" opacity="0.32"/>
<text x="292.4" y="122.86" font-size="5.1" fill="#666" text-anchor="end">-0.06</text>
<text x="435.9" y="122.86" font-size="5.1" fill="#666">-0.06</text>
<line x1="292" x2="435" y1="130.5" y2="130.5" stroke="#999" stroke-width="1" stroke-dasharray="1 1" opacity="0.32"/>
<text x="292.4" y="132.68" font-size="5.1" fill="#666" text-anchor="end">-0.08</text>
<text x="435.9" y="132.68" font-size="5.1" fill="#666">-0.08</text>
<line x1="292" x2="435" y1="140.5" y2="140.5" stroke="#999" stroke-width="1" stroke-dasharray="1 1" opacity="0.32"/>
<text x="292.4" y="142.50" font-size="5.1" fill="#666" text-anchor="end">-0.1</text>
<text x="435.9" y="142.50" font-size="5.1" fill="#666">-0.1</text>
<line x1="292" x2="435" y1="150.5" y2="150.5" stroke="#999" stroke-width="1" stroke-dasharray="1 1" opacity="0.32"/>
<text x="292.4" y="152.32" font-size="5.1" fill="#666" text-anchor="end">-0.12</text>
<text x="435.9" y="152.32" font-size="5.1" fill="#666">-0.12</text>
<line x1="292" x2="435" y1="160.5" y2="160.5" stroke="#999" stroke-width="1" stroke-dasharray="1 1" opacity="0.32"/>
<text x="292.4" y="162.14" font-size="5.1" fill="#666" text-anchor="end">-0.14</text>
<text x="435.9" y="162.14" font-size="5.1" fill="#666">-0.14</text>
</g>
<rect x="292" y="19.9" width="143.2" height="142.4" fill="none" stroke="#aaa" stroke-width="0.4"/>
<text transform="translate(364.7,179.2) scale(0.9,1)" font-size="6.4" fill="#333" text-anchor="middle">X (millimeters)</text>
<text transform="translate(275.60,93.90) rotate(-90)" x="0" y="0" font-size="5.1" fill="#808080" text-anchor="middle">Y (millimeters)</text>
<text transform="translate(466.6,7.9) scale(1.08,1)" font-family="Liberation Serif" font-size="11.2" fill="#2a2a2a">(c)</text>
<text x="491.5" y="14.7" font-size="4.6" fill="#666" text-anchor="end">W/m²</text>
<rect x="493" y="18.40" width="10" height="9.88" fill="#f0c800"/>
<rect x="493" y="27.97" width="10" height="9.88" fill="#f0f000"/>
<rect x="493" y="37.55" width="10" height="9.88" fill="#dcf400"/>
<rect x="493" y="47.12" width="10" height="9.88" fill="#b8f000"/>
<rect x="493" y="56.70" width="10" height="9.88" fill="#90f000"/>
<rect x="493" y="66.28" width="10" height="9.88" fill="#50f000"/>
<rect x="493" y="75.85" width="10" height="9.88" fill="#00f000"/>
<rect x="493" y="85.42" width="10" height="9.88" fill="#00e060"/>
<rect x="493" y="95.00" width="10" height="9.88" fill="#00c8dc"/>
<rect x="493" y="104.57" width="10" height="9.88" fill="#00a8ff"/>
<rect x="493" y="114.15" width="10" height="9.88" fill="#0064ff"/>
<rect x="493" y="123.72" width="10" height="9.88" fill="#3434ff"/>
<rect x="493" y="133.30" width="10" height="9.88" fill="#4400ff"/>
<rect x="493" y="142.88" width="10" height="9.88" fill="#3e06a0"/>
<rect x="493" y="152.45" width="10" height="9.88" fill="#380058"/>
<rect x="493" y="162.03" width="10" height="9.88" fill="#000000"/>
<line x1="493" x2="503" y1="27.97" y2="27.97" stroke="#222" stroke-width="0.45" opacity="0.7"/>
<line x1="493" x2="503" y1="37.55" y2="37.55" stroke="#222" stroke-width="0.45" opacity="0.7"/>
<line x1="493" x2="503" y1="47.12" y2="47.12" stroke="#222" stroke-width="0.45" opacity="0.7"/>
<line x1="493" x2="503" y1="56.70" y2="56.70" stroke="#222" stroke-width="0.45" opacity="0.7"/>
<line x1="493" x2="503" y1="66.28" y2="66.28" stroke="#222" stroke-width="0.45" opacity="0.7"/>
<line x1="493" x2="503" y1="75.85" y2="75.85" stroke="#222" stroke-width="0.45" opacity="0.7"/>
<line x1="493" x2="503" y1="85.42" y2="85.42" stroke="#222" stroke-width="0.45" opacity="0.7"/>
<line x1="493" x2="503" y1="95.00" y2="95.00" stroke="#222" stroke-width="0.45" opacity="0.7"/>
<line x1="493" x2="503" y1="104.57" y2="104.57" stroke="#222" stroke-width="0.45" opacity="0.7"/>
<line x1="493" x2="503" y1="114.15" y2="114.15" stroke="#222" stroke-width="0.45" opacity="0.7"/>
<line x1="493" x2="503" y1="123.72" y2="123.72" stroke="#222" stroke-width="0.45" opacity="0.7"/>
<line x1="493" x2="503" y1="133.30" y2="133.30" stroke="#222" stroke-width="0.45" opacity="0.7"/>
<line x1="493" x2="503" y1="142.88" y2="142.88" stroke="#222" stroke-width="0.45" opacity="0.7"/>
<line x1="493" x2="503" y1="152.45" y2="152.45" stroke="#222" stroke-width="0.45" opacity="0.7"/>
<line x1="493" x2="503" y1="162.03" y2="162.03" stroke="#222" stroke-width="0.45" opacity="0.7"/>
<line x1="487" x2="493" y1="18.40" y2="18.40" stroke="#999" stroke-width="0.6"/>
<text x="486.7" y="20.50" font-size="4.7" fill="#666" text-anchor="end">3.2e+07</text>
<line x1="487" x2="493" y1="27.97" y2="27.97" stroke="#999" stroke-width="0.6"/>
<text x="486.7" y="30.07" font-size="4.7" fill="#666" text-anchor="end">3e+07</text>
<line x1="487" x2="493" y1="37.55" y2="37.55" stroke="#999" stroke-width="0.6"/>
<text x="486.7" y="39.65" font-size="4.7" fill="#666" text-anchor="end">2.8e+07</text>
<line x1="487" x2="493" y1="47.12" y2="47.12" stroke="#999" stroke-width="0.6"/>
<text x="486.7" y="49.23" font-size="4.7" fill="#666" text-anchor="end">2.6e+07</text>
<line x1="487" x2="493" y1="56.70" y2="56.70" stroke="#999" stroke-width="0.6"/>
<text x="486.7" y="58.80" font-size="4.7" fill="#666" text-anchor="end">2.4e+07</text>
<line x1="487" x2="493" y1="66.28" y2="66.28" stroke="#999" stroke-width="0.6"/>
<text x="486.7" y="68.38" font-size="4.7" fill="#666" text-anchor="end">2.2e+07</text>
<line x1="487" x2="493" y1="75.85" y2="75.85" stroke="#999" stroke-width="0.6"/>
<text x="486.7" y="77.95" font-size="4.7" fill="#666" text-anchor="end">2e+07</text>
<line x1="487" x2="493" y1="85.42" y2="85.42" stroke="#999" stroke-width="0.6"/>
<text x="486.7" y="87.52" font-size="4.7" fill="#666" text-anchor="end">1.8e+07</text>
<line x1="487" x2="493" y1="95.00" y2="95.00" stroke="#999" stroke-width="0.6"/>
<text x="486.7" y="97.10" font-size="4.7" fill="#666" text-anchor="end">1.6e+07</text>
<line x1="487" x2="493" y1="104.57" y2="104.57" stroke="#999" stroke-width="0.6"/>
<text x="486.7" y="106.67" font-size="4.7" fill="#666" text-anchor="end">1.4e+07</text>
<line x1="487" x2="493" y1="114.15" y2="114.15" stroke="#999" stroke-width="0.6"/>
<text x="486.7" y="116.25" font-size="4.7" fill="#666" text-anchor="end">1.2e+07</text>
<line x1="487" x2="493" y1="123.72" y2="123.72" stroke="#999" stroke-width="0.6"/>
<text x="486.7" y="125.82" font-size="4.7" fill="#666" text-anchor="end">1e+07</text>
<line x1="487" x2="493" y1="133.30" y2="133.30" stroke="#999" stroke-width="0.6"/>
<text x="486.7" y="135.40" font-size="4.7" fill="#666" text-anchor="end">8e+06</text>
<line x1="487" x2="493" y1="142.88" y2="142.88" stroke="#999" stroke-width="0.6"/>
<text x="486.7" y="144.97" font-size="4.7" fill="#666" text-anchor="end">6e+06</text>
<line x1="487" x2="493" y1="152.45" y2="152.45" stroke="#999" stroke-width="0.6"/>
<text x="486.7" y="154.55" font-size="4.7" fill="#666" text-anchor="end">4e+06</text>
<line x1="487" x2="493" y1="162.03" y2="162.03" stroke="#999" stroke-width="0.6"/>
<text x="486.7" y="164.12" font-size="4.7" fill="#666" text-anchor="end">2e+06</text>
<line x1="487" x2="493" y1="171.60" y2="171.60" stroke="#999" stroke-width="0.6"/>
<text x="486.7" y="173.70" font-size="4.7" fill="#666" text-anchor="end">0</text>
<g filter="url(#fc)"><rect x="524.2" y="17.9" width="143.5999999999999" height="143.0" fill="rgb(8,0,0)"/><ellipse cx="596.0" cy="89.4" rx="71.79999999999995" ry="71.5" fill="url(#g11)"/><circle cx="596.40" cy="66.10" r="10.3" fill="url(#g12)"/><circle cx="574.70" cy="101.80" r="10.3" fill="url(#g13)"/><circle cx="617.50" cy="101.80" r="10.3" fill="url(#g14)"/><circle cx="596.30" cy="89.70" r="3.6" fill="url(#g15)"/></g>
<g mask="url(#mc)">
<text x="524.20" y="15.099999999999998" font-size="5.1" fill="#666" text-anchor="middle">-0.145</text>
<text x="524.20" y="168.4" font-size="5.1" fill="#666" text-anchor="middle">-0.145</text>
<line x1="546.5" x2="546.5" y1="18" y2="160" stroke="#999" stroke-width="1" stroke-dasharray="1 1" opacity="0.32"/>
<text x="546.48" y="15.099999999999998" font-size="5.1" fill="#666" text-anchor="middle">-0.1</text>
<text x="546.48" y="168.4" font-size="5.1" fill="#666" text-anchor="middle">-0.1</text>
<line x1="571.5" x2="571.5" y1="18" y2="160" stroke="#999" stroke-width="1" stroke-dasharray="1 1" opacity="0.32"/>
<text x="571.24" y="15.099999999999998" font-size="5.1" fill="#666" text-anchor="middle">-0.05</text>
<text x="571.24" y="168.4" font-size="5.1" fill="#666" text-anchor="middle">-0.05</text>
<line x1="596.5" x2="596.5" y1="18" y2="160" stroke="#999" stroke-width="1" stroke-dasharray="1 1" opacity="0.32"/>
<text x="596.00" y="15.099999999999998" font-size="5.1" fill="#666" text-anchor="middle">0</text>
<text x="596.00" y="168.4" font-size="5.1" fill="#666" text-anchor="middle">0</text>
<line x1="620.5" x2="620.5" y1="18" y2="160" stroke="#999" stroke-width="1" stroke-dasharray="1 1" opacity="0.32"/>
<text x="620.76" y="15.099999999999998" font-size="5.1" fill="#666" text-anchor="middle">0.05</text>
<text x="620.76" y="168.4" font-size="5.1" fill="#666" text-anchor="middle">0.05</text>
<line x1="645.5" x2="645.5" y1="18" y2="160" stroke="#999" stroke-width="1" stroke-dasharray="1 1" opacity="0.32"/>
<text x="645.52" y="15.099999999999998" font-size="5.1" fill="#666" text-anchor="middle">0.1</text>
<text x="645.52" y="168.4" font-size="5.1" fill="#666" text-anchor="middle">0.1</text>
<text x="667.80" y="15.099999999999998" font-size="5.1" fill="#666" text-anchor="middle">0.145</text>
<text x="667.80" y="168.4" font-size="5.1" fill="#666" text-anchor="middle">0.145</text>
<line x1="525" x2="667" y1="20.5" y2="20.5" stroke="#999" stroke-width="1" stroke-dasharray="1 1" opacity="0.32"/>
<text x="524.6" y="22.67" font-size="5.1" fill="#666" text-anchor="end">0.14</text>
<text x="668.5" y="22.67" font-size="5.1" fill="#666">0.14</text>
<line x1="525" x2="667" y1="30.5" y2="30.5" stroke="#999" stroke-width="1" stroke-dasharray="1 1" opacity="0.32"/>
<text x="524.6" y="32.53" font-size="5.1" fill="#666" text-anchor="end">0.12</text>
<text x="668.5" y="32.53" font-size="5.1" fill="#666">0.12</text>
<line x1="525" x2="667" y1="40.5" y2="40.5" stroke="#999" stroke-width="1" stroke-dasharray="1 1" opacity="0.32"/>
<text x="524.6" y="42.39" font-size="5.1" fill="#666" text-anchor="end">0.1</text>
<text x="668.5" y="42.39" font-size="5.1" fill="#666">0.1</text>
<line x1="525" x2="667" y1="50.5" y2="50.5" stroke="#999" stroke-width="1" stroke-dasharray="1 1" opacity="0.32"/>
<text x="524.6" y="52.25" font-size="5.1" fill="#666" text-anchor="end">0.08</text>
<text x="668.5" y="52.25" font-size="5.1" fill="#666">0.08</text>
<line x1="525" x2="667" y1="60.5" y2="60.5" stroke="#999" stroke-width="1" stroke-dasharray="1 1" opacity="0.32"/>
<text x="524.6" y="62.11" font-size="5.1" fill="#666" text-anchor="end">0.06</text>
<text x="668.5" y="62.11" font-size="5.1" fill="#666">0.06</text>
<line x1="525" x2="667" y1="69.5" y2="69.5" stroke="#999" stroke-width="1" stroke-dasharray="1 1" opacity="0.32"/>
<text x="524.6" y="71.98" font-size="5.1" fill="#666" text-anchor="end">0.04</text>
<text x="668.5" y="71.98" font-size="5.1" fill="#666">0.04</text>
<line x1="525" x2="667" y1="79.5" y2="79.5" stroke="#999" stroke-width="1" stroke-dasharray="1 1" opacity="0.32"/>
<text x="524.6" y="81.84" font-size="5.1" fill="#666" text-anchor="end">0.02</text>
<text x="668.5" y="81.84" font-size="5.1" fill="#666">0.02</text>
<line x1="525" x2="667" y1="89.5" y2="89.5" stroke="#999" stroke-width="1" stroke-dasharray="1 1" opacity="0.32"/>
<text x="524.6" y="91.70" font-size="5.1" fill="#666" text-anchor="end">0</text>
<text x="668.5" y="91.70" font-size="5.1" fill="#666">0</text>
<line x1="525" x2="667" y1="99.5" y2="99.5" stroke="#999" stroke-width="1" stroke-dasharray="1 1" opacity="0.32"/>
<text x="524.6" y="101.56" font-size="5.1" fill="#666" text-anchor="end">-0.02</text>
<text x="668.5" y="101.56" font-size="5.1" fill="#666">-0.02</text>
<line x1="525" x2="667" y1="109.5" y2="109.5" stroke="#999" stroke-width="1" stroke-dasharray="1 1" opacity="0.32"/>
<text x="524.6" y="111.42" font-size="5.1" fill="#666" text-anchor="end">-0.04</text>
<text x="668.5" y="111.42" font-size="5.1" fill="#666">-0.04</text>
<line x1="525" x2="667" y1="119.5" y2="119.5" stroke="#999" stroke-width="1" stroke-dasharray="1 1" opacity="0.32"/>
<text x="524.6" y="121.29" font-size="5.1" fill="#666" text-anchor="end">-0.06</text>
<text x="668.5" y="121.29" font-size="5.1" fill="#666">-0.06</text>
<line x1="525" x2="667" y1="129.5" y2="129.5" stroke="#999" stroke-width="1" stroke-dasharray="1 1" opacity="0.32"/>
<text x="524.6" y="131.15" font-size="5.1" fill="#666" text-anchor="end">-0.08</text>
<text x="668.5" y="131.15" font-size="5.1" fill="#666">-0.08</text>
<line x1="525" x2="667" y1="139.5" y2="139.5" stroke="#999" stroke-width="1" stroke-dasharray="1 1" opacity="0.32"/>
<text x="524.6" y="141.01" font-size="5.1" fill="#666" text-anchor="end">-0.1</text>
<text x="668.5" y="141.01" font-size="5.1" fill="#666">-0.1</text>
<line x1="525" x2="667" y1="148.5" y2="148.5" stroke="#999" stroke-width="1" stroke-dasharray="1 1" opacity="0.32"/>
<text x="524.6" y="150.87" font-size="5.1" fill="#666" text-anchor="end">-0.12</text>
<text x="668.5" y="150.87" font-size="5.1" fill="#666">-0.12</text>
<line x1="525" x2="667" y1="158.5" y2="158.5" stroke="#999" stroke-width="1" stroke-dasharray="1 1" opacity="0.32"/>
<text x="524.6" y="160.73" font-size="5.1" fill="#666" text-anchor="end">-0.14</text>
<text x="668.5" y="160.73" font-size="5.1" fill="#666">-0.14</text>
</g>
<rect x="524.2" y="17.9" width="143.5999999999999" height="143.0" fill="none" stroke="#aaa" stroke-width="0.4"/>
<text transform="translate(595.5,178.0) scale(0.9,1)" font-size="6.4" fill="#333" text-anchor="middle">X (millimeters)</text>
<text transform="translate(507.60,92.20) rotate(-90)" x="0" y="0" font-size="5.1" fill="#808080" text-anchor="middle">Y (millimeters)</text>
<text transform="translate(4.2,197.7) scale(1.08,1)" font-family="Liberation Serif" font-size="11.2" fill="#2a2a2a">(d)</text>
<text x="28.1" y="208.3" font-size="4.6" fill="#666" text-anchor="end">W/m²</text>
<rect x="29.6" y="212.00" width="10.399999999999999" height="10.48" fill="#f0f000"/>
<rect x="29.6" y="222.18" width="10.399999999999999" height="10.48" fill="#dcf400"/>
<rect x="29.6" y="232.36" width="10.399999999999999" height="10.48" fill="#b8f000"/>
<rect x="29.6" y="242.54" width="10.399999999999999" height="10.48" fill="#90f000"/>
<rect x="29.6" y="252.72" width="10.399999999999999" height="10.48" fill="#50f000"/>
<rect x="29.6" y="262.90" width="10.399999999999999" height="10.48" fill="#00f000"/>
<rect x="29.6" y="273.08" width="10.399999999999999" height="10.48" fill="#00e060"/>
<rect x="29.6" y="283.26" width="10.399999999999999" height="10.48" fill="#00c8dc"/>
<rect x="29.6" y="293.44" width="10.399999999999999" height="10.48" fill="#00a8ff"/>
<rect x="29.6" y="303.62" width="10.399999999999999" height="10.48" fill="#0064ff"/>
<rect x="29.6" y="313.80" width="10.399999999999999" height="10.48" fill="#3434ff"/>
<rect x="29.6" y="323.98" width="10.399999999999999" height="10.48" fill="#4400ff"/>
<rect x="29.6" y="334.16" width="10.399999999999999" height="10.48" fill="#3e06a0"/>
<rect x="29.6" y="344.34" width="10.399999999999999" height="10.48" fill="#380058"/>
<rect x="29.6" y="354.52" width="10.399999999999999" height="10.48" fill="#000000"/>
<line x1="29.6" x2="40" y1="222.18" y2="222.18" stroke="#222" stroke-width="0.45" opacity="0.7"/>
<line x1="29.6" x2="40" y1="232.36" y2="232.36" stroke="#222" stroke-width="0.45" opacity="0.7"/>
<line x1="29.6" x2="40" y1="242.54" y2="242.54" stroke="#222" stroke-width="0.45" opacity="0.7"/>
<line x1="29.6" x2="40" y1="252.72" y2="252.72" stroke="#222" stroke-width="0.45" opacity="0.7"/>
<line x1="29.6" x2="40" y1="262.90" y2="262.90" stroke="#222" stroke-width="0.45" opacity="0.7"/>
<line x1="29.6" x2="40" y1="273.08" y2="273.08" stroke="#222" stroke-width="0.45" opacity="0.7"/>
<line x1="29.6" x2="40" y1="283.26" y2="283.26" stroke="#222" stroke-width="0.45" opacity="0.7"/>
<line x1="29.6" x2="40" y1="293.44" y2="293.44" stroke="#222" stroke-width="0.45" opacity="0.7"/>
<line x1="29.6" x2="40" y1="303.62" y2="303.62" stroke="#222" stroke-width="0.45" opacity="0.7"/>
<line x1="29.6" x2="40" y1="313.80" y2="313.80" stroke="#222" stroke-width="0.45" opacity="0.7"/>
<line x1="29.6" x2="40" y1="323.98" y2="323.98" stroke="#222" stroke-width="0.45" opacity="0.7"/>
<line x1="29.6" x2="40" y1="334.16" y2="334.16" stroke="#222" stroke-width="0.45" opacity="0.7"/>
<line x1="29.6" x2="40" y1="344.34" y2="344.34" stroke="#222" stroke-width="0.45" opacity="0.7"/>
<line x1="29.6" x2="40" y1="354.52" y2="354.52" stroke="#222" stroke-width="0.45" opacity="0.7"/>
<line x1="23.6" x2="29.6" y1="212.00" y2="212.00" stroke="#999" stroke-width="0.6"/>
<text x="23.3" y="214.10" font-size="4.7" fill="#666" text-anchor="end">7.5e+07</text>
<line x1="23.6" x2="29.6" y1="222.18" y2="222.18" stroke="#999" stroke-width="0.6"/>
<text x="23.3" y="224.28" font-size="4.7" fill="#666" text-anchor="end">7e+07</text>
<line x1="23.6" x2="29.6" y1="232.36" y2="232.36" stroke="#999" stroke-width="0.6"/>
<text x="23.3" y="234.46" font-size="4.7" fill="#666" text-anchor="end">6.5e+07</text>
<line x1="23.6" x2="29.6" y1="242.54" y2="242.54" stroke="#999" stroke-width="0.6"/>
<text x="23.3" y="244.64" font-size="4.7" fill="#666" text-anchor="end">6e+07</text>
<line x1="23.6" x2="29.6" y1="252.72" y2="252.72" stroke="#999" stroke-width="0.6"/>
<text x="23.3" y="254.82" font-size="4.7" fill="#666" text-anchor="end">5.5e+07</text>
<line x1="23.6" x2="29.6" y1="262.90" y2="262.90" stroke="#999" stroke-width="0.6"/>
<text x="23.3" y="265.00" font-size="4.7" fill="#666" text-anchor="end">5e+07</text>
<line x1="23.6" x2="29.6" y1="273.08" y2="273.08" stroke="#999" stroke-width="0.6"/>
<text x="23.3" y="275.18" font-size="4.7" fill="#666" text-anchor="end">4.5e+07</text>
<line x1="23.6" x2="29.6" y1="283.26" y2="283.26" stroke="#999" stroke-width="0.6"/>
<text x="23.3" y="285.36" font-size="4.7" fill="#666" text-anchor="end">4e+07</text>
<line x1="23.6" x2="29.6" y1="293.44" y2="293.44" stroke="#999" stroke-width="0.6"/>
<text x="23.3" y="295.54" font-size="4.7" fill="#666" text-anchor="end">3.5e+07</text>
<line x1="23.6" x2="29.6" y1="303.62" y2="303.62" stroke="#999" stroke-width="0.6"/>
<text x="23.3" y="305.72" font-size="4.7" fill="#666" text-anchor="end">3e+07</text>
<line x1="23.6" x2="29.6" y1="313.80" y2="313.80" stroke="#999" stroke-width="0.6"/>
<text x="23.3" y="315.90" font-size="4.7" fill="#666" text-anchor="end">2.5e+07</text>
<line x1="23.6" x2="29.6" y1="323.98" y2="323.98" stroke="#999" stroke-width="0.6"/>
<text x="23.3" y="326.08" font-size="4.7" fill="#666" text-anchor="end">2e+07</text>
<line x1="23.6" x2="29.6" y1="334.16" y2="334.16" stroke="#999" stroke-width="0.6"/>
<text x="23.3" y="336.26" font-size="4.7" fill="#666" text-anchor="end">1.5e+07</text>
<line x1="23.6" x2="29.6" y1="344.34" y2="344.34" stroke="#999" stroke-width="0.6"/>
<text x="23.3" y="346.44" font-size="4.7" fill="#666" text-anchor="end">1e+07</text>
<line x1="23.6" x2="29.6" y1="354.52" y2="354.52" stroke="#999" stroke-width="0.6"/>
<text x="23.3" y="356.62" font-size="4.7" fill="#666" text-anchor="end">5e+06</text>
<line x1="23.6" x2="29.6" y1="364.70" y2="364.70" stroke="#999" stroke-width="0.6"/>
<text x="23.3" y="366.80" font-size="4.7" fill="#666" text-anchor="end">0</text>
<g filter="url(#fd)"><rect x="61.2" y="211.3" width="143.8" height="142.59999999999997" fill="rgb(8,0,0)"/><ellipse cx="133.1" cy="282.6" rx="71.9" ry="71.29999999999998" fill="url(#g16)"/><circle cx="133.10" cy="282.60" r="5.8" fill="url(#g17)"/><circle cx="133.10" cy="242.10" r="5.8" fill="url(#g18)"/><circle cx="156.91" cy="249.83" r="5.8" fill="url(#g19)"/><circle cx="171.62" cy="270.08" r="5.8" fill="url(#g20)"/><circle cx="171.62" cy="295.12" r="5.8" fill="url(#g21)"/><circle cx="156.91" cy="315.37" r="5.8" fill="url(#g22)"/><circle cx="133.10" cy="323.10" r="5.8" fill="url(#g23)"/><circle cx="109.29" cy="315.37" r="5.8" fill="url(#g24)"/><circle cx="94.58" cy="295.12" r="5.8" fill="url(#g25)"/><circle cx="94.58" cy="270.08" r="5.8" fill="url(#g26)"/><circle cx="109.29" cy="249.83" r="5.8" fill="url(#g27)"/></g>
<g mask="url(#md)">
<line x1="70.5" x2="70.5" y1="212" y2="353" stroke="#999" stroke-width="1" stroke-dasharray="1 1" opacity="0.32"/>
<text x="70.58" y="208.5" font-size="5.1" fill="#666" text-anchor="middle">-0.1</text>
<text x="70.58" y="361.4" font-size="5.1" fill="#666" text-anchor="middle">-0.1</text>
<line x1="102.5" x2="102.5" y1="212" y2="353" stroke="#999" stroke-width="1" stroke-dasharray="1 1" opacity="0.32"/>
<text x="101.84" y="208.5" font-size="5.1" fill="#666" text-anchor="middle">-0.05</text>
<text x="101.84" y="361.4" font-size="5.1" fill="#666" text-anchor="middle">-0.05</text>
<line x1="133.5" x2="133.5" y1="212" y2="353" stroke="#999" stroke-width="1" stroke-dasharray="1 1" opacity="0.32"/>
<text x="133.10" y="208.5" font-size="5.1" fill="#666" text-anchor="middle">0</text>
<text x="133.10" y="361.4" font-size="5.1" fill="#666" text-anchor="middle">0</text>
<line x1="164.5" x2="164.5" y1="212" y2="353" stroke="#999" stroke-width="1" stroke-dasharray="1 1" opacity="0.32"/>
<text x="164.36" y="208.5" font-size="5.1" fill="#666" text-anchor="middle">0.05</text>
<text x="164.36" y="361.4" font-size="5.1" fill="#666" text-anchor="middle">0.05</text>
<line x1="195.5" x2="195.5" y1="212" y2="353" stroke="#999" stroke-width="1" stroke-dasharray="1 1" opacity="0.32"/>
<text x="195.62" y="208.5" font-size="5.1" fill="#666" text-anchor="middle">0.1</text>
<text x="195.62" y="361.4" font-size="5.1" fill="#666" text-anchor="middle">0.1</text>
<text x="61.6" y="213.60" font-size="5.1" fill="#666" text-anchor="end">0.115</text>
<text x="205.7" y="213.60" font-size="5.1" fill="#666">0.115</text>
<line x1="62" x2="205" y1="220.5" y2="220.5" stroke="#999" stroke-width="1" stroke-dasharray="1 1" opacity="0.32"/>
<text x="61.6" y="222.90" font-size="5.1" fill="#666" text-anchor="end">0.1</text>
<text x="205.7" y="222.90" font-size="5.1" fill="#666">0.1</text>
<line x1="62" x2="205" y1="233.5" y2="233.5" stroke="#999" stroke-width="1" stroke-dasharray="1 1" opacity="0.32"/>
<text x="61.6" y="235.30" font-size="5.1" fill="#666" text-anchor="end">0.08</text>
<text x="205.7" y="235.30" font-size="5.1" fill="#666">0.08</text>
<line x1="62" x2="205" y1="245.5" y2="245.5" stroke="#999" stroke-width="1" stroke-dasharray="1 1" opacity="0.32"/>
<text x="61.6" y="247.70" font-size="5.1" fill="#666" text-anchor="end">0.06</text>
<text x="205.7" y="247.70" font-size="5.1" fill="#666">0.06</text>
<line x1="62" x2="205" y1="258.5" y2="258.5" stroke="#999" stroke-width="1" stroke-dasharray="1 1" opacity="0.32"/>
<text x="61.6" y="260.10" font-size="5.1" fill="#666" text-anchor="end">0.04</text>
<text x="205.7" y="260.10" font-size="5.1" fill="#666">0.04</text>
<line x1="62" x2="205" y1="270.5" y2="270.5" stroke="#999" stroke-width="1" stroke-dasharray="1 1" opacity="0.32"/>
<text x="61.6" y="272.50" font-size="5.1" fill="#666" text-anchor="end">0.02</text>
<text x="205.7" y="272.50" font-size="5.1" fill="#666">0.02</text>
<line x1="62" x2="205" y1="282.5" y2="282.5" stroke="#999" stroke-width="1" stroke-dasharray="1 1" opacity="0.32"/>
<text x="61.6" y="284.90" font-size="5.1" fill="#666" text-anchor="end">0</text>
<text x="205.7" y="284.90" font-size="5.1" fill="#666">0</text>
<line x1="62" x2="205" y1="295.5" y2="295.5" stroke="#999" stroke-width="1" stroke-dasharray="1 1" opacity="0.32"/>
<text x="61.6" y="297.30" font-size="5.1" fill="#666" text-anchor="end">-0.02</text>
<text x="205.7" y="297.30" font-size="5.1" fill="#666">-0.02</text>
<line x1="62" x2="205" y1="307.5" y2="307.5" stroke="#999" stroke-width="1" stroke-dasharray="1 1" opacity="0.32"/>
<text x="61.6" y="309.70" font-size="5.1" fill="#666" text-anchor="end">-0.04</text>
<text x="205.7" y="309.70" font-size="5.1" fill="#666">-0.04</text>
<line x1="62" x2="205" y1="320.5" y2="320.5" stroke="#999" stroke-width="1" stroke-dasharray="1 1" opacity="0.32"/>
<text x="61.6" y="322.10" font-size="5.1" fill="#666" text-anchor="end">-0.06</text>
<text x="205.7" y="322.10" font-size="5.1" fill="#666">-0.06</text>
<line x1="62" x2="205" y1="332.5" y2="332.5" stroke="#999" stroke-width="1" stroke-dasharray="1 1" opacity="0.32"/>
<text x="61.6" y="334.50" font-size="5.1" fill="#666" text-anchor="end">-0.08</text>
<text x="205.7" y="334.50" font-size="5.1" fill="#666">-0.08</text>
<line x1="62" x2="205" y1="344.5" y2="344.5" stroke="#999" stroke-width="1" stroke-dasharray="1 1" opacity="0.32"/>
<text x="61.6" y="346.90" font-size="5.1" fill="#666" text-anchor="end">-0.1</text>
<text x="205.7" y="346.90" font-size="5.1" fill="#666">-0.1</text>
<text x="61.6" y="356.20" font-size="5.1" fill="#666" text-anchor="end">-0.115</text>
<text x="205.7" y="356.20" font-size="5.1" fill="#666">-0.115</text>
</g>
<rect x="61.2" y="211.3" width="143.8" height="142.59999999999997" fill="none" stroke="#aaa" stroke-width="0.4"/>
<text transform="translate(132.5,369.2) scale(0.9,1)" font-size="6.4" fill="#333" text-anchor="middle">X (millimeters)</text>
<text transform="translate(44.60,285.40) rotate(-90)" x="0" y="0" font-size="5.1" fill="#808080" text-anchor="middle">Y (millimeters)</text>
<text transform="translate(234.6,197.7) scale(1.08,1)" font-family="Liberation Serif" font-size="11.2" fill="#2a2a2a">(e)</text>
<text x="260.9" y="210.3" font-size="4.6" fill="#666" text-anchor="end">W/m²</text>
<rect x="262.4" y="214.00" width="10.600000000000023" height="9.28" fill="#ec9c00"/>
<rect x="262.4" y="222.98" width="10.600000000000023" height="9.28" fill="#f0c800"/>
<rect x="262.4" y="231.96" width="10.600000000000023" height="9.28" fill="#f0f000"/>
<rect x="262.4" y="240.95" width="10.600000000000023" height="9.28" fill="#dcf400"/>
<rect x="262.4" y="249.93" width="10.600000000000023" height="9.28" fill="#b8f000"/>
<rect x="262.4" y="258.91" width="10.600000000000023" height="9.28" fill="#90f000"/>
<rect x="262.4" y="267.89" width="10.600000000000023" height="9.28" fill="#50f000"/>
<rect x="262.4" y="276.88" width="10.600000000000023" height="9.28" fill="#00f000"/>
<rect x="262.4" y="285.86" width="10.600000000000023" height="9.28" fill="#00e060"/>
<rect x="262.4" y="294.84" width="10.600000000000023" height="9.28" fill="#00c8dc"/>
<rect x="262.4" y="303.82" width="10.600000000000023" height="9.28" fill="#00a8ff"/>
<rect x="262.4" y="312.81" width="10.600000000000023" height="9.28" fill="#0064ff"/>
<rect x="262.4" y="321.79" width="10.600000000000023" height="9.28" fill="#3434ff"/>
<rect x="262.4" y="330.77" width="10.600000000000023" height="9.28" fill="#4400ff"/>
<rect x="262.4" y="339.75" width="10.600000000000023" height="9.28" fill="#3e06a0"/>
<rect x="262.4" y="348.74" width="10.600000000000023" height="9.28" fill="#380058"/>
<rect x="262.4" y="357.72" width="10.600000000000023" height="9.28" fill="#000000"/>
<line x1="262.4" x2="273" y1="222.98" y2="222.98" stroke="#222" stroke-width="0.45" opacity="0.7"/>
<line x1="262.4" x2="273" y1="231.96" y2="231.96" stroke="#222" stroke-width="0.45" opacity="0.7"/>
<line x1="262.4" x2="273" y1="240.95" y2="240.95" stroke="#222" stroke-width="0.45" opacity="0.7"/>
<line x1="262.4" x2="273" y1="249.93" y2="249.93" stroke="#222" stroke-width="0.45" opacity="0.7"/>
<line x1="262.4" x2="273" y1="258.91" y2="258.91" stroke="#222" stroke-width="0.45" opacity="0.7"/>
<line x1="262.4" x2="273" y1="267.89" y2="267.89" stroke="#222" stroke-width="0.45" opacity="0.7"/>
<line x1="262.4" x2="273" y1="276.88" y2="276.88" stroke="#222" stroke-width="0.45" opacity="0.7"/>
<line x1="262.4" x2="273" y1="285.86" y2="285.86" stroke="#222" stroke-width="0.45" opacity="0.7"/>
<line x1="262.4" x2="273" y1="294.84" y2="294.84" stroke="#222" stroke-width="0.45" opacity="0.7"/>
<line x1="262.4" x2="273" y1="303.82" y2="303.82" stroke="#222" stroke-width="0.45" opacity="0.7"/>
<line x1="262.4" x2="273" y1="312.81" y2="312.81" stroke="#222" stroke-width="0.45" opacity="0.7"/>
<line x1="262.4" x2="273" y1="321.79" y2="321.79" stroke="#222" stroke-width="0.45" opacity="0.7"/>
<line x1="262.4" x2="273" y1="330.77" y2="330.77" stroke="#222" stroke-width="0.45" opacity="0.7"/>
<line x1="262.4" x2="273" y1="339.75" y2="339.75" stroke="#222" stroke-width="0.45" opacity="0.7"/>
<line x1="262.4" x2="273" y1="348.74" y2="348.74" stroke="#222" stroke-width="0.45" opacity="0.7"/>
<line x1="262.4" x2="273" y1="357.72" y2="357.72" stroke="#222" stroke-width="0.45" opacity="0.7"/>
<line x1="256.4" x2="262.4" y1="214.00" y2="214.00" stroke="#999" stroke-width="0.6"/>
<text x="256.09999999999997" y="216.10" font-size="4.7" fill="#666" text-anchor="end">3.4e+07</text>
<line x1="256.4" x2="262.4" y1="222.98" y2="222.98" stroke="#999" stroke-width="0.6"/>
<text x="256.09999999999997" y="225.08" font-size="4.7" fill="#666" text-anchor="end">3.2e+07</text>
<line x1="256.4" x2="262.4" y1="231.96" y2="231.96" stroke="#999" stroke-width="0.6"/>
<text x="256.09999999999997" y="234.06" font-size="4.7" fill="#666" text-anchor="end">3e+07</text>
<line x1="256.4" x2="262.4" y1="240.95" y2="240.95" stroke="#999" stroke-width="0.6"/>
<text x="256.09999999999997" y="243.05" font-size="4.7" fill="#666" text-anchor="end">2.8e+07</text>
<line x1="256.4" x2="262.4" y1="249.93" y2="249.93" stroke="#999" stroke-width="0.6"/>
<text x="256.09999999999997" y="252.03" font-size="4.7" fill="#666" text-anchor="end">2.6e+07</text>
<line x1="256.4" x2="262.4" y1="258.91" y2="258.91" stroke="#999" stroke-width="0.6"/>
<text x="256.09999999999997" y="261.01" font-size="4.7" fill="#666" text-anchor="end">2.4e+07</text>
<line x1="256.4" x2="262.4" y1="267.89" y2="267.89" stroke="#999" stroke-width="0.6"/>
<text x="256.09999999999997" y="269.99" font-size="4.7" fill="#666" text-anchor="end">2.2e+07</text>
<line x1="256.4" x2="262.4" y1="276.88" y2="276.88" stroke="#999" stroke-width="0.6"/>
<text x="256.09999999999997" y="278.98" font-size="4.7" fill="#666" text-anchor="end">2e+07</text>
<line x1="256.4" x2="262.4" y1="285.86" y2="285.86" stroke="#999" stroke-width="0.6"/>
<text x="256.09999999999997" y="287.96" font-size="4.7" fill="#666" text-anchor="end">1.8e+07</text>
<line x1="256.4" x2="262.4" y1="294.84" y2="294.84" stroke="#999" stroke-width="0.6"/>
<text x="256.09999999999997" y="296.94" font-size="4.7" fill="#666" text-anchor="end">1.6e+07</text>
<line x1="256.4" x2="262.4" y1="303.82" y2="303.82" stroke="#999" stroke-width="0.6"/>
<text x="256.09999999999997" y="305.92" font-size="4.7" fill="#666" text-anchor="end">1.4e+07</text>
<line x1="256.4" x2="262.4" y1="312.81" y2="312.81" stroke="#999" stroke-width="0.6"/>
<text x="256.09999999999997" y="314.91" font-size="4.7" fill="#666" text-anchor="end">1.2e+07</text>
<line x1="256.4" x2="262.4" y1="321.79" y2="321.79" stroke="#999" stroke-width="0.6"/>
<text x="256.09999999999997" y="323.89" font-size="4.7" fill="#666" text-anchor="end">1e+07</text>
<line x1="256.4" x2="262.4" y1="330.77" y2="330.77" stroke="#999" stroke-width="0.6"/>
<text x="256.09999999999997" y="332.87" font-size="4.7" fill="#666" text-anchor="end">8e+06</text>
<line x1="256.4" x2="262.4" y1="339.75" y2="339.75" stroke="#999" stroke-width="0.6"/>
<text x="256.09999999999997" y="341.85" font-size="4.7" fill="#666" text-anchor="end">6e+06</text>
<line x1="256.4" x2="262.4" y1="348.74" y2="348.74" stroke="#999" stroke-width="0.6"/>
<text x="256.09999999999997" y="350.84" font-size="4.7" fill="#666" text-anchor="end">4e+06</text>
<line x1="256.4" x2="262.4" y1="357.72" y2="357.72" stroke="#999" stroke-width="0.6"/>
<text x="256.09999999999997" y="359.82" font-size="4.7" fill="#666" text-anchor="end">2e+06</text>
<line x1="256.4" x2="262.4" y1="366.70" y2="366.70" stroke="#999" stroke-width="0.6"/>
<text x="256.09999999999997" y="368.80" font-size="4.7" fill="#666" text-anchor="end">0</text>
<g filter="url(#fe)"><rect x="294" y="213.3" width="143.8" height="142.59999999999997" fill="rgb(8,0,0)"/><ellipse cx="365.9" cy="284.6" rx="71.9" ry="71.29999999999998" fill="url(#g28)"/><circle cx="365.90" cy="284.60" r="5.4" fill="url(#g29)"/><circle cx="365.90" cy="244.10" r="5.4" fill="url(#g30)"/><circle cx="389.71" cy="251.83" r="5.4" fill="url(#g31)"/><circle cx="404.42" cy="272.08" r="5.4" fill="url(#g32)"/><circle cx="404.42" cy="297.12" r="5.4" fill="url(#g33)"/><circle cx="389.71" cy="317.37" r="5.4" fill="url(#g34)"/><circle cx="365.90" cy="325.10" r="5.4" fill="url(#g35)"/><circle cx="342.09" cy="317.37" r="5.4" fill="url(#g36)"/><circle cx="327.38" cy="297.12" r="5.4" fill="url(#g37)"/><circle cx="327.38" cy="272.08" r="5.4" fill="url(#g38)"/><circle cx="342.09" cy="251.83" r="5.4" fill="url(#g39)"/></g>
<g mask="url(#me)">
<line x1="303.5" x2="303.5" y1="214" y2="355" stroke="#999" stroke-width="1" stroke-dasharray="1 1" opacity="0.32"/>
<text x="303.38" y="210.5" font-size="5.1" fill="#666" text-anchor="middle">-0.1</text>
<text x="303.38" y="363.4" font-size="5.1" fill="#666" text-anchor="middle">-0.1</text>
<line x1="334.5" x2="334.5" y1="214" y2="355" stroke="#999" stroke-width="1" stroke-dasharray="1 1" opacity="0.32"/>
<text x="334.64" y="210.5" font-size="5.1" fill="#666" text-anchor="middle">-0.05</text>
<text x="334.64" y="363.4" font-size="5.1" fill="#666" text-anchor="middle">-0.05</text>
<line x1="366.5" x2="366.5" y1="214" y2="355" stroke="#999" stroke-width="1" stroke-dasharray="1 1" opacity="0.32"/>
<text x="365.90" y="210.5" font-size="5.1" fill="#666" text-anchor="middle">0</text>
<text x="365.90" y="363.4" font-size="5.1" fill="#666" text-anchor="middle">0</text>
<line x1="397.5" x2="397.5" y1="214" y2="355" stroke="#999" stroke-width="1" stroke-dasharray="1 1" opacity="0.32"/>
<text x="397.16" y="210.5" font-size="5.1" fill="#666" text-anchor="middle">0.05</text>
<text x="397.16" y="363.4" font-size="5.1" fill="#666" text-anchor="middle">0.05</text>
<line x1="428.5" x2="428.5" y1="214" y2="355" stroke="#999" stroke-width="1" stroke-dasharray="1 1" opacity="0.32"/>
<text x="428.42" y="210.5" font-size="5.1" fill="#666" text-anchor="middle">0.1</text>
<text x="428.42" y="363.4" font-size="5.1" fill="#666" text-anchor="middle">0.1</text>
<text x="294.4" y="215.60" font-size="5.1" fill="#666" text-anchor="end">0.115</text>
<text x="438.5" y="215.60" font-size="5.1" fill="#666">0.115</text>
<line x1="294" x2="437" y1="222.5" y2="222.5" stroke="#999" stroke-width="1" stroke-dasharray="1 1" opacity="0.32"/>
<text x="294.4" y="224.90" font-size="5.1" fill="#666" text-anchor="end">0.1</text>
<text x="438.5" y="224.90" font-size="5.1" fill="#666">0.1</text>
<line x1="294" x2="437" y1="235.5" y2="235.5" stroke="#999" stroke-width="1" stroke-dasharray="1 1" opacity="0.32"/>
<text x="294.4" y="237.30" font-size="5.1" fill="#666" text-anchor="end">0.08</text>
<text x="438.5" y="237.30" font-size="5.1" fill="#666">0.08</text>
<line x1="294" x2="437" y1="247.5" y2="247.5" stroke="#999" stroke-width="1" stroke-dasharray="1 1" opacity="0.32"/>
<text x="294.4" y="249.70" font-size="5.1" fill="#666" text-anchor="end">0.06</text>
<text x="438.5" y="249.70" font-size="5.1" fill="#666">0.06</text>
<line x1="294" x2="437" y1="260.5" y2="260.5" stroke="#999" stroke-width="1" stroke-dasharray="1 1" opacity="0.32"/>
<text x="294.4" y="262.10" font-size="5.1" fill="#666" text-anchor="end">0.04</text>
<text x="438.5" y="262.10" font-size="5.1" fill="#666">0.04</text>
<line x1="294" x2="437" y1="272.5" y2="272.5" stroke="#999" stroke-width="1" stroke-dasharray="1 1" opacity="0.32"/>
<text x="294.4" y="274.50" font-size="5.1" fill="#666" text-anchor="end">0.02</text>
<text x="438.5" y="274.50" font-size="5.1" fill="#666">0.02</text>
<line x1="294" x2="437" y1="284.5" y2="284.5" stroke="#999" stroke-width="1" stroke-dasharray="1 1" opacity="0.32"/>
<text x="294.4" y="286.90" font-size="5.1" fill="#666" text-anchor="end">0</text>
<text x="438.5" y="286.90" font-size="5.1" fill="#666">0</text>
<line x1="294" x2="437" y1="297.5" y2="297.5" stroke="#999" stroke-width="1" stroke-dasharray="1 1" opacity="0.32"/>
<text x="294.4" y="299.30" font-size="5.1" fill="#666" text-anchor="end">-0.02</text>
<text x="438.5" y="299.30" font-size="5.1" fill="#666">-0.02</text>
<line x1="294" x2="437" y1="309.5" y2="309.5" stroke="#999" stroke-width="1" stroke-dasharray="1 1" opacity="0.32"/>
<text x="294.4" y="311.70" font-size="5.1" fill="#666" text-anchor="end">-0.04</text>
<text x="438.5" y="311.70" font-size="5.1" fill="#666">-0.04</text>
<line x1="294" x2="437" y1="322.5" y2="322.5" stroke="#999" stroke-width="1" stroke-dasharray="1 1" opacity="0.32"/>
<text x="294.4" y="324.10" font-size="5.1" fill="#666" text-anchor="end">-0.06</text>
<text x="438.5" y="324.10" font-size="5.1" fill="#666">-0.06</text>
<line x1="294" x2="437" y1="334.5" y2="334.5" stroke="#999" stroke-width="1" stroke-dasharray="1 1" opacity="0.32"/>
<text x="294.4" y="336.50" font-size="5.1" fill="#666" text-anchor="end">-0.08</text>
<text x="438.5" y="336.50" font-size="5.1" fill="#666">-0.08</text>
<line x1="294" x2="437" y1="346.5" y2="346.5" stroke="#999" stroke-width="1" stroke-dasharray="1 1" opacity="0.32"/>
<text x="294.4" y="348.90" font-size="5.1" fill="#666" text-anchor="end">-0.1</text>
<text x="438.5" y="348.90" font-size="5.1" fill="#666">-0.1</text>
<text x="294.4" y="358.20" font-size="5.1" fill="#666" text-anchor="end">-0.115</text>
<text x="438.5" y="358.20" font-size="5.1" fill="#666">-0.115</text>
</g>
<rect x="294" y="213.3" width="143.8" height="142.59999999999997" fill="none" stroke="#aaa" stroke-width="0.4"/>
<text transform="translate(364.9,370.4) scale(0.9,1)" font-size="6.4" fill="#333" text-anchor="middle">X (millimeters)</text>
<text transform="translate(277.60,287.40) rotate(-90)" x="0" y="0" font-size="5.1" fill="#808080" text-anchor="middle">Y (millimeters)</text>
<text transform="translate(465.6,197.3) scale(1.08,1)" font-family="Liberation Serif" font-size="11.2" fill="#2a2a2a">(f)</text>
<text x="490.9" y="206.60000000000002" font-size="4.6" fill="#666" text-anchor="end">W/m²</text>
<rect x="492.4" y="210.30" width="10.600000000000023" height="9.31" fill="#ec9c00"/>
<rect x="492.4" y="219.31" width="10.600000000000023" height="9.31" fill="#f0c800"/>
<rect x="492.4" y="228.31" width="10.600000000000023" height="9.31" fill="#f0f000"/>
<rect x="492.4" y="237.32" width="10.600000000000023" height="9.31" fill="#dcf400"/>
<rect x="492.4" y="246.32" width="10.600000000000023" height="9.31" fill="#b8f000"/>
<rect x="492.4" y="255.33" width="10.600000000000023" height="9.31" fill="#90f000"/>
<rect x="492.4" y="264.34" width="10.600000000000023" height="9.31" fill="#50f000"/>
<rect x="492.4" y="273.34" width="10.600000000000023" height="9.31" fill="#00f000"/>
<rect x="492.4" y="282.35" width="10.600000000000023" height="9.31" fill="#00e060"/>
<rect x="492.4" y="291.35" width="10.600000000000023" height="9.31" fill="#00c8dc"/>
<rect x="492.4" y="300.36" width="10.600000000000023" height="9.31" fill="#00a8ff"/>
<rect x="492.4" y="309.36" width="10.600000000000023" height="9.31" fill="#0064ff"/>
<rect x="492.4" y="318.37" width="10.600000000000023" height="9.31" fill="#3434ff"/>
<rect x="492.4" y="327.38" width="10.600000000000023" height="9.31" fill="#4400ff"/>
<rect x="492.4" y="336.38" width="10.600000000000023" height="9.31" fill="#3e06a0"/>
<rect x="492.4" y="345.39" width="10.600000000000023" height="9.31" fill="#380058"/>
<rect x="492.4" y="354.39" width="10.600000000000023" height="9.31" fill="#000000"/>
<line x1="492.4" x2="503" y1="219.31" y2="219.31" stroke="#222" stroke-width="0.45" opacity="0.7"/>
<line x1="492.4" x2="503" y1="228.31" y2="228.31" stroke="#222" stroke-width="0.45" opacity="0.7"/>
<line x1="492.4" x2="503" y1="237.32" y2="237.32" stroke="#222" stroke-width="0.45" opacity="0.7"/>
<line x1="492.4" x2="503" y1="246.32" y2="246.32" stroke="#222" stroke-width="0.45" opacity="0.7"/>
<line x1="492.4" x2="503" y1="255.33" y2="255.33" stroke="#222" stroke-width="0.45" opacity="0.7"/>
<line x1="492.4" x2="503" y1="264.34" y2="264.34" stroke="#222" stroke-width="0.45" opacity="0.7"/>
<line x1="492.4" x2="503" y1="273.34" y2="273.34" stroke="#222" stroke-width="0.45" opacity="0.7"/>
<line x1="492.4" x2="503" y1="282.35" y2="282.35" stroke="#222" stroke-width="0.45" opacity="0.7"/>
<line x1="492.4" x2="503" y1="291.35" y2="291.35" stroke="#222" stroke-width="0.45" opacity="0.7"/>
<line x1="492.4" x2="503" y1="300.36" y2="300.36" stroke="#222" stroke-width="0.45" opacity="0.7"/>
<line x1="492.4" x2="503" y1="309.36" y2="309.36" stroke="#222" stroke-width="0.45" opacity="0.7"/>
<line x1="492.4" x2="503" y1="318.37" y2="318.37" stroke="#222" stroke-width="0.45" opacity="0.7"/>
<line x1="492.4" x2="503" y1="327.38" y2="327.38" stroke="#222" stroke-width="0.45" opacity="0.7"/>
<line x1="492.4" x2="503" y1="336.38" y2="336.38" stroke="#222" stroke-width="0.45" opacity="0.7"/>
<line x1="492.4" x2="503" y1="345.39" y2="345.39" stroke="#222" stroke-width="0.45" opacity="0.7"/>
<line x1="492.4" x2="503" y1="354.39" y2="354.39" stroke="#222" stroke-width="0.45" opacity="0.7"/>
<line x1="486.4" x2="492.4" y1="210.30" y2="210.30" stroke="#999" stroke-width="0.6"/>
<text x="486.09999999999997" y="212.40" font-size="4.7" fill="#666" text-anchor="end">3.4e+07</text>
<line x1="486.4" x2="492.4" y1="219.31" y2="219.31" stroke="#999" stroke-width="0.6"/>
<text x="486.09999999999997" y="221.41" font-size="4.7" fill="#666" text-anchor="end">3.2e+07</text>
<line x1="486.4" x2="492.4" y1="228.31" y2="228.31" stroke="#999" stroke-width="0.6"/>
<text x="486.09999999999997" y="230.41" font-size="4.7" fill="#666" text-anchor="end">3e+07</text>
<line x1="486.4" x2="492.4" y1="237.32" y2="237.32" stroke="#999" stroke-width="0.6"/>
<text x="486.09999999999997" y="239.42" font-size="4.7" fill="#666" text-anchor="end">2.8e+07</text>
<line x1="486.4" x2="492.4" y1="246.32" y2="246.32" stroke="#999" stroke-width="0.6"/>
<text x="486.09999999999997" y="248.42" font-size="4.7" fill="#666" text-anchor="end">2.6e+07</text>
<line x1="486.4" x2="492.4" y1="255.33" y2="255.33" stroke="#999" stroke-width="0.6"/>
<text x="486.09999999999997" y="257.43" font-size="4.7" fill="#666" text-anchor="end">2.4e+07</text>
<line x1="486.4" x2="492.4" y1="264.34" y2="264.34" stroke="#999" stroke-width="0.6"/>
<text x="486.09999999999997" y="266.44" font-size="4.7" fill="#666" text-anchor="end">2.2e+07</text>
<line x1="486.4" x2="492.4" y1="273.34" y2="273.34" stroke="#999" stroke-width="0.6"/>
<text x="486.09999999999997" y="275.44" font-size="4.7" fill="#666" text-anchor="end">2e+07</text>
<line x1="486.4" x2="492.4" y1="282.35" y2="282.35" stroke="#999" stroke-width="0.6"/>
<text x="486.09999999999997" y="284.45" font-size="4.7" fill="#666" text-anchor="end">1.8e+07</text>
<line x1="486.4" x2="492.4" y1="291.35" y2="291.35" stroke="#999" stroke-width="0.6"/>
<text x="486.09999999999997" y="293.45" font-size="4.7" fill="#666" text-anchor="end">1.6e+07</text>
<line x1="486.4" x2="492.4" y1="300.36" y2="300.36" stroke="#999" stroke-width="0.6"/>
<text x="486.09999999999997" y="302.46" font-size="4.7" fill="#666" text-anchor="end">1.4e+07</text>
<line x1="486.4" x2="492.4" y1="309.36" y2="309.36" stroke="#999" stroke-width="0.6"/>
<text x="486.09999999999997" y="311.46" font-size="4.7" fill="#666" text-anchor="end">1.2e+07</text>
<line x1="486.4" x2="492.4" y1="318.37" y2="318.37" stroke="#999" stroke-width="0.6"/>
<text x="486.09999999999997" y="320.47" font-size="4.7" fill="#666" text-anchor="end">1e+07</text>
<line x1="486.4" x2="492.4" y1="327.38" y2="327.38" stroke="#999" stroke-width="0.6"/>
<text x="486.09999999999997" y="329.48" font-size="4.7" fill="#666" text-anchor="end">8e+06</text>
<line x1="486.4" x2="492.4" y1="336.38" y2="336.38" stroke="#999" stroke-width="0.6"/>
<text x="486.09999999999997" y="338.48" font-size="4.7" fill="#666" text-anchor="end">6e+06</text>
<line x1="486.4" x2="492.4" y1="345.39" y2="345.39" stroke="#999" stroke-width="0.6"/>
<text x="486.09999999999997" y="347.49" font-size="4.7" fill="#666" text-anchor="end">4e+06</text>
<line x1="486.4" x2="492.4" y1="354.39" y2="354.39" stroke="#999" stroke-width="0.6"/>
<text x="486.09999999999997" y="356.49" font-size="4.7" fill="#666" text-anchor="end">2e+06</text>
<line x1="486.4" x2="492.4" y1="363.40" y2="363.40" stroke="#999" stroke-width="0.6"/>
<text x="486.09999999999997" y="365.50" font-size="4.7" fill="#666" text-anchor="end">0</text>
<g filter="url(#ff)"><rect x="523.9" y="210.1" width="143.20000000000005" height="142.79999999999998" fill="rgb(8,0,0)"/><ellipse cx="595.5" cy="281.5" rx="71.60000000000002" ry="71.39999999999999" fill="url(#g40)"/><circle cx="595.50" cy="281.50" r="5.0" fill="url(#g41)"/><circle cx="595.50" cy="240.70" r="5.0" fill="url(#g42)"/><circle cx="619.48" cy="248.49" r="5.0" fill="url(#g43)"/><circle cx="634.30" cy="268.89" r="5.0" fill="url(#g44)"/><circle cx="634.30" cy="294.11" r="5.0" fill="url(#g45)"/><circle cx="619.48" cy="314.51" r="5.0" fill="url(#g46)"/><circle cx="595.50" cy="322.30" r="5.0" fill="url(#g47)"/><circle cx="571.52" cy="314.51" r="5.0" fill="url(#g48)"/><circle cx="556.70" cy="294.11" r="5.0" fill="url(#g49)"/><circle cx="556.70" cy="268.89" r="5.0" fill="url(#g50)"/><circle cx="571.52" cy="248.49" r="5.0" fill="url(#g51)"/></g>
<g mask="url(#mf)">
<line x1="533.5" x2="533.5" y1="211" y2="352" stroke="#999" stroke-width="1" stroke-dasharray="1 1" opacity="0.32"/>
<text x="533.24" y="207.29999999999998" font-size="5.1" fill="#666" text-anchor="middle">-0.1</text>
<text x="533.24" y="360.4" font-size="5.1" fill="#666" text-anchor="middle">-0.1</text>
<line x1="564.5" x2="564.5" y1="211" y2="352" stroke="#999" stroke-width="1" stroke-dasharray="1 1" opacity="0.32"/>
<text x="564.37" y="207.29999999999998" font-size="5.1" fill="#666" text-anchor="middle">-0.05</text>
<text x="564.37" y="360.4" font-size="5.1" fill="#666" text-anchor="middle">-0.05</text>
<line x1="595.5" x2="595.5" y1="211" y2="352" stroke="#999" stroke-width="1" stroke-dasharray="1 1" opacity="0.32"/>
<text x="595.50" y="207.29999999999998" font-size="5.1" fill="#666" text-anchor="middle">0</text>
<text x="595.50" y="360.4" font-size="5.1" fill="#666" text-anchor="middle">0</text>
<line x1="626.5" x2="626.5" y1="211" y2="352" stroke="#999" stroke-width="1" stroke-dasharray="1 1" opacity="0.32"/>
<text x="626.63" y="207.29999999999998" font-size="5.1" fill="#666" text-anchor="middle">0.05</text>
<text x="626.63" y="360.4" font-size="5.1" fill="#666" text-anchor="middle">0.05</text>
<line x1="657.5" x2="657.5" y1="211" y2="352" stroke="#999" stroke-width="1" stroke-dasharray="1 1" opacity="0.32"/>
<text x="657.76" y="207.29999999999998" font-size="5.1" fill="#666" text-anchor="middle">0.1</text>
<text x="657.76" y="360.4" font-size="5.1" fill="#666" text-anchor="middle">0.1</text>
<text x="524.3" y="212.40" font-size="5.1" fill="#666" text-anchor="end">0.115</text>
<text x="667.8000000000001" y="212.40" font-size="5.1" fill="#666">0.115</text>
<line x1="524" x2="667" y1="219.5" y2="219.5" stroke="#999" stroke-width="1" stroke-dasharray="1 1" opacity="0.32"/>
<text x="524.3" y="221.71" font-size="5.1" fill="#666" text-anchor="end">0.1</text>
<text x="667.8000000000001" y="221.71" font-size="5.1" fill="#666">0.1</text>
<line x1="524" x2="667" y1="232.5" y2="232.5" stroke="#999" stroke-width="1" stroke-dasharray="1 1" opacity="0.32"/>
<text x="524.3" y="234.13" font-size="5.1" fill="#666" text-anchor="end">0.08</text>
<text x="667.8000000000001" y="234.13" font-size="5.1" fill="#666">0.08</text>
<line x1="524" x2="667" y1="244.5" y2="244.5" stroke="#999" stroke-width="1" stroke-dasharray="1 1" opacity="0.32"/>
<text x="524.3" y="246.55" font-size="5.1" fill="#666" text-anchor="end">0.06</text>
<text x="667.8000000000001" y="246.55" font-size="5.1" fill="#666">0.06</text>
<line x1="524" x2="667" y1="256.5" y2="256.5" stroke="#999" stroke-width="1" stroke-dasharray="1 1" opacity="0.32"/>
<text x="524.3" y="258.97" font-size="5.1" fill="#666" text-anchor="end">0.04</text>
<text x="667.8000000000001" y="258.97" font-size="5.1" fill="#666">0.04</text>
<line x1="524" x2="667" y1="269.5" y2="269.5" stroke="#999" stroke-width="1" stroke-dasharray="1 1" opacity="0.32"/>
<text x="524.3" y="271.38" font-size="5.1" fill="#666" text-anchor="end">0.02</text>
<text x="667.8000000000001" y="271.38" font-size="5.1" fill="#666">0.02</text>
<line x1="524" x2="667" y1="281.5" y2="281.5" stroke="#999" stroke-width="1" stroke-dasharray="1 1" opacity="0.32"/>
<text x="524.3" y="283.80" font-size="5.1" fill="#666" text-anchor="end">0</text>
<text x="667.8000000000001" y="283.80" font-size="5.1" fill="#666">0</text>
<line x1="524" x2="667" y1="294.5" y2="294.5" stroke="#999" stroke-width="1" stroke-dasharray="1 1" opacity="0.32"/>
<text x="524.3" y="296.22" font-size="5.1" fill="#666" text-anchor="end">-0.02</text>
<text x="667.8000000000001" y="296.22" font-size="5.1" fill="#666">-0.02</text>
<line x1="524" x2="667" y1="306.5" y2="306.5" stroke="#999" stroke-width="1" stroke-dasharray="1 1" opacity="0.32"/>
<text x="524.3" y="308.63" font-size="5.1" fill="#666" text-anchor="end">-0.04</text>
<text x="667.8000000000001" y="308.63" font-size="5.1" fill="#666">-0.04</text>
<line x1="524" x2="667" y1="319.5" y2="319.5" stroke="#999" stroke-width="1" stroke-dasharray="1 1" opacity="0.32"/>
<text x="524.3" y="321.05" font-size="5.1" fill="#666" text-anchor="end">-0.06</text>
<text x="667.8000000000001" y="321.05" font-size="5.1" fill="#666">-0.06</text>
<line x1="524" x2="667" y1="331.5" y2="331.5" stroke="#999" stroke-width="1" stroke-dasharray="1 1" opacity="0.32"/>
<text x="524.3" y="333.47" font-size="5.1" fill="#666" text-anchor="end">-0.08</text>
<text x="667.8000000000001" y="333.47" font-size="5.1" fill="#666">-0.08</text>
<line x1="524" x2="667" y1="343.5" y2="343.5" stroke="#999" stroke-width="1" stroke-dasharray="1 1" opacity="0.32"/>
<text x="524.3" y="345.89" font-size="5.1" fill="#666" text-anchor="end">-0.1</text>
<text x="667.8000000000001" y="345.89" font-size="5.1" fill="#666">-0.1</text>
<text x="524.3" y="355.20" font-size="5.1" fill="#666" text-anchor="end">-0.115</text>
<text x="667.8000000000001" y="355.20" font-size="5.1" fill="#666">-0.115</text>
</g>
<rect x="523.9" y="210.1" width="143.20000000000005" height="142.79999999999998" fill="none" stroke="#aaa" stroke-width="0.4"/>
<text transform="translate(594.9,367.2) scale(0.9,1)" font-size="6.4" fill="#333" text-anchor="middle">X (millimeters)</text>
<text transform="translate(507.60,284.30) rotate(-90)" x="0" y="0" font-size="5.1" fill="#808080" text-anchor="middle">Y (millimeters)</text>
</svg>
</body></html>
